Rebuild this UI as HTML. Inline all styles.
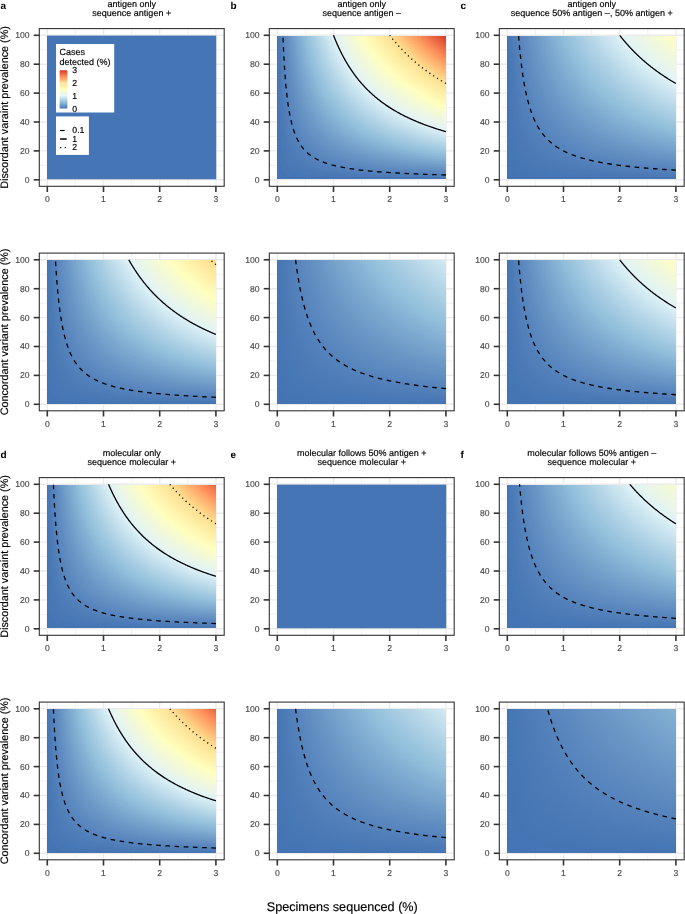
<!DOCTYPE html>
<html><head><meta charset="utf-8"><style>
html,body{margin:0;padding:0;background:#fff;width:685px;height:914px;overflow:hidden}
svg{display:block;will-change:transform}
text{font-family:"Liberation Sans",sans-serif;text-rendering:geometricPrecision}
text[fill="#4d4d4d"]{stroke:#4d4d4d;stroke-width:0.16px}
text[fill="#000"]{stroke:#000;stroke-width:0.16px}
text[font-weight="bold"]{stroke:none}
</style></head><body>
<svg width="685" height="914" viewBox="0 0 685 914">
<defs><filter id="cm100" x="0" y="0" width="1" height="1" color-interpolation-filters="sRGB"><feComponentTransfer><feFuncR type="table" tableValues="0.2706 0.3026 0.3330 0.3623 0.3908 0.4186 0.4458 0.4727 0.4992 0.5254 0.5514 0.5787 0.6087 0.6384 0.6678 0.6970 0.7259 0.7548 0.7834 0.8120 0.8405 0.8690 0.8876 0.9008 0.9136 0.9259 0.9376 0.9490 0.9600 0.9705 0.9807 0.9905 1.0000 1.0000 1.0000 1.0000 1.0000 1.0000 1.0000 0.9995 0.9988 0.9979 0.9968 0.9969 0.9988 1.0000 1.0000 1.0000 1.0000 0.9991 0.9975 0.9953 0.9926 0.9894 0.9800 0.9675 0.9547 0.9416 0.9283 0.9148 0.9009 0.8869 0.8725 0.8580 0.8431"/><feFuncG type="table" tableValues="0.4588 0.4848 0.5110 0.5375 0.5643 0.5914 0.6186 0.6462 0.6739 0.7019 0.7301 0.7552 0.7740 0.7928 0.8117 0.8307 0.8498 0.8690 0.8882 0.9075 0.9269 0.9464 0.9558 0.9600 0.9644 0.9687 0.9731 0.9775 0.9819 0.9864 0.9909 0.9954 1.0000 0.9885 0.9771 0.9656 0.9542 0.9428 0.9314 0.9200 0.9087 0.8973 0.8860 0.8686 0.8389 0.8091 0.7793 0.7492 0.7190 0.6886 0.6579 0.6269 0.5955 0.5637 0.5330 0.5029 0.4724 0.4415 0.4099 0.3776 0.3442 0.3095 0.2727 0.2329 0.1882"/><feFuncB type="table" tableValues="0.7059 0.7203 0.7346 0.7490 0.7633 0.7777 0.7920 0.8063 0.8207 0.8350 0.8493 0.8624 0.8730 0.8837 0.8943 0.9050 0.9157 0.9263 0.9370 0.9477 0.9583 0.9690 0.9588 0.9382 0.9175 0.8968 0.8759 0.8551 0.8341 0.8130 0.7918 0.7705 0.7490 0.7316 0.7142 0.6969 0.6796 0.6623 0.6450 0.6278 0.6105 0.5933 0.5762 0.5577 0.5368 0.5160 0.4953 0.4749 0.4545 0.4344 0.4144 0.3946 0.3749 0.3555 0.3361 0.3168 0.2977 0.2789 0.2602 0.2417 0.2235 0.2055 0.1877 0.1702 0.1529"/></feComponentTransfer></filter><filter id="cm109" x="0" y="0" width="1" height="1" color-interpolation-filters="sRGB"><feComponentTransfer><feFuncR type="table" tableValues="0.2706 0.3000 0.3281 0.3552 0.3815 0.4072 0.4324 0.4572 0.4817 0.5059 0.5299 0.5538 0.5790 0.6065 0.6338 0.6608 0.6876 0.7143 0.7408 0.7671 0.7934 0.8196 0.8458 0.8718 0.8878 0.9000 0.9118 0.9231 0.9340 0.9446 0.9548 0.9646 0.9742 0.9834 0.9924 1.0000 1.0000 1.0000 1.0000 1.0000 1.0000 1.0000 0.9998 0.9992 0.9985 0.9976 0.9966 0.9971 0.9988 1.0000 1.0000 1.0000 1.0000 0.9996 0.9983 0.9966 0.9944 0.9917 0.9887 0.9784 0.9669 0.9552 0.9432 0.9310 0.9186"/><feFuncG type="table" tableValues="0.4588 0.4826 0.5067 0.5309 0.5554 0.5802 0.6051 0.6302 0.6556 0.6811 0.7068 0.7327 0.7554 0.7726 0.7899 0.8072 0.8246 0.8421 0.8596 0.8772 0.8949 0.9127 0.9305 0.9484 0.9559 0.9598 0.9637 0.9677 0.9717 0.9757 0.9798 0.9839 0.9880 0.9922 0.9963 0.9987 0.9882 0.9777 0.9672 0.9567 0.9463 0.9358 0.9254 0.9149 0.9045 0.8941 0.8837 0.8650 0.8378 0.8105 0.7831 0.7556 0.7279 0.7001 0.6720 0.6437 0.6152 0.5862 0.5569 0.5292 0.5015 0.4735 0.4452 0.4164 0.3869"/><feFuncB type="table" tableValues="0.7059 0.7191 0.7323 0.7454 0.7586 0.7718 0.7849 0.7981 0.8112 0.8243 0.8375 0.8506 0.8625 0.8722 0.8820 0.8918 0.9016 0.9114 0.9211 0.9309 0.9407 0.9505 0.9603 0.9701 0.9584 0.9395 0.9205 0.9015 0.8824 0.8633 0.8441 0.8248 0.8054 0.7860 0.7664 0.7471 0.7311 0.7152 0.6993 0.6834 0.6675 0.6517 0.6358 0.6200 0.6042 0.5885 0.5727 0.5552 0.5360 0.5169 0.4980 0.4792 0.4605 0.4419 0.4235 0.4053 0.3871 0.3692 0.3514 0.3336 0.3159 0.2984 0.2811 0.2639 0.2469"/></feComponentTransfer></filter><filter id="cm145" x="0" y="0" width="1" height="1" color-interpolation-filters="sRGB"><feComponentTransfer><feFuncR type="table" tableValues="0.2706 0.2928 0.3143 0.3351 0.3553 0.3752 0.3947 0.4138 0.4327 0.4514 0.4699 0.4882 0.5064 0.5245 0.5424 0.5603 0.5798 0.6005 0.6210 0.6415 0.6617 0.6819 0.7020 0.7220 0.7419 0.7617 0.7815 0.8012 0.8209 0.8405 0.8601 0.8791 0.8885 0.8977 0.9066 0.9153 0.9238 0.9320 0.9400 0.9478 0.9555 0.9629 0.9701 0.9772 0.9841 0.9908 0.9974 1.0000 1.0000 1.0000 1.0000 1.0000 1.0000 1.0000 1.0000 1.0000 0.9997 0.9993 0.9988 0.9982 0.9975 0.9968 0.9963 0.9978 0.9990"/><feFuncG type="table" tableValues="0.4588 0.4767 0.4947 0.5128 0.5311 0.5495 0.5680 0.5867 0.6054 0.6243 0.6433 0.6624 0.6816 0.7009 0.7203 0.7399 0.7559 0.7688 0.7818 0.7948 0.8078 0.8209 0.8340 0.8472 0.8604 0.8736 0.8869 0.9002 0.9135 0.9269 0.9404 0.9531 0.9561 0.9590 0.9620 0.9650 0.9680 0.9710 0.9740 0.9770 0.9801 0.9832 0.9863 0.9894 0.9925 0.9956 0.9987 0.9953 0.9873 0.9794 0.9716 0.9637 0.9558 0.9479 0.9401 0.9322 0.9243 0.9165 0.9087 0.9008 0.8930 0.8852 0.8757 0.8553 0.8348"/><feFuncB type="table" tableValues="0.7059 0.7158 0.7257 0.7356 0.7455 0.7554 0.7653 0.7752 0.7851 0.7950 0.8049 0.8147 0.8246 0.8345 0.8444 0.8542 0.8627 0.8701 0.8774 0.8848 0.8921 0.8995 0.9068 0.9142 0.9215 0.9289 0.9363 0.9436 0.9510 0.9583 0.9657 0.9716 0.9574 0.9432 0.9289 0.9146 0.9003 0.8860 0.8716 0.8572 0.8428 0.8283 0.8137 0.7991 0.7845 0.7697 0.7550 0.7418 0.7298 0.7178 0.7058 0.6939 0.6819 0.6700 0.6581 0.6462 0.6343 0.6224 0.6105 0.5987 0.5868 0.5750 0.5628 0.5483 0.5339"/></feComponentTransfer></filter><filter id="cm200" x="0" y="0" width="1" height="1" color-interpolation-filters="sRGB"><feComponentTransfer><feFuncR type="table" tableValues="0.2706 0.2868 0.3026 0.3180 0.3330 0.3478 0.3623 0.3767 0.3908 0.4048 0.4186 0.4323 0.4458 0.4593 0.4727 0.4859 0.4992 0.5123 0.5254 0.5384 0.5514 0.5643 0.5787 0.5938 0.6087 0.6236 0.6384 0.6531 0.6678 0.6824 0.6970 0.7115 0.7259 0.7404 0.7548 0.7691 0.7834 0.7977 0.8120 0.8263 0.8405 0.8548 0.8690 0.8807 0.8876 0.8943 0.9008 0.9073 0.9136 0.9198 0.9259 0.9318 0.9376 0.9434 0.9490 0.9545 0.9600 0.9653 0.9705 0.9756 0.9807 0.9856 0.9905 0.9953 1.0000"/><feFuncG type="table" tableValues="0.4588 0.4718 0.4848 0.4979 0.5110 0.5242 0.5375 0.5509 0.5643 0.5778 0.5914 0.6050 0.6186 0.6324 0.6462 0.6600 0.6739 0.6879 0.7019 0.7160 0.7301 0.7443 0.7552 0.7646 0.7740 0.7834 0.7928 0.8022 0.8117 0.8212 0.8307 0.8402 0.8498 0.8594 0.8690 0.8786 0.8882 0.8979 0.9075 0.9172 0.9269 0.9367 0.9464 0.9536 0.9558 0.9579 0.9600 0.9622 0.9644 0.9665 0.9687 0.9709 0.9731 0.9753 0.9775 0.9797 0.9819 0.9842 0.9864 0.9887 0.9909 0.9932 0.9954 0.9977 1.0000"/><feFuncB type="table" tableValues="0.7059 0.7131 0.7203 0.7274 0.7346 0.7418 0.7490 0.7562 0.7633 0.7705 0.7777 0.7848 0.7920 0.7992 0.8063 0.8135 0.8207 0.8278 0.8350 0.8421 0.8493 0.8564 0.8624 0.8677 0.8730 0.8784 0.8837 0.8890 0.8943 0.8997 0.9050 0.9103 0.9157 0.9210 0.9263 0.9317 0.9370 0.9423 0.9477 0.9530 0.9583 0.9637 0.9690 0.9691 0.9588 0.9485 0.9382 0.9279 0.9175 0.9071 0.8968 0.8864 0.8759 0.8655 0.8551 0.8446 0.8341 0.8236 0.8130 0.8024 0.7918 0.7812 0.7705 0.7598 0.7490"/></feComponentTransfer></filter><filter id="cm218" x="0" y="0" width="1" height="1" color-interpolation-filters="sRGB"><feComponentTransfer><feFuncR type="table" tableValues="0.2706 0.2855 0.3000 0.3142 0.3281 0.3417 0.3552 0.3684 0.3815 0.3944 0.4072 0.4198 0.4324 0.4448 0.4572 0.4695 0.4817 0.4938 0.5059 0.5180 0.5299 0.5419 0.5538 0.5656 0.5790 0.5928 0.6065 0.6202 0.6338 0.6473 0.6608 0.6742 0.6876 0.7010 0.7143 0.7275 0.7408 0.7540 0.7671 0.7803 0.7934 0.8065 0.8196 0.8327 0.8458 0.8588 0.8718 0.8816 0.8878 0.8940 0.9000 0.9059 0.9118 0.9175 0.9231 0.9286 0.9340 0.9393 0.9446 0.9497 0.9548 0.9598 0.9646 0.9695 0.9742"/><feFuncG type="table" tableValues="0.4588 0.4707 0.4826 0.4946 0.5067 0.5188 0.5309 0.5432 0.5554 0.5678 0.5802 0.5926 0.6051 0.6176 0.6302 0.6429 0.6556 0.6683 0.6811 0.6939 0.7068 0.7197 0.7327 0.7457 0.7554 0.7640 0.7726 0.7812 0.7899 0.7985 0.8072 0.8159 0.8246 0.8333 0.8421 0.8508 0.8596 0.8684 0.8772 0.8861 0.8949 0.9038 0.9127 0.9216 0.9305 0.9394 0.9484 0.9539 0.9559 0.9578 0.9598 0.9617 0.9637 0.9657 0.9677 0.9697 0.9717 0.9737 0.9757 0.9778 0.9798 0.9819 0.9839 0.9860 0.9880"/><feFuncB type="table" tableValues="0.7059 0.7125 0.7191 0.7257 0.7323 0.7388 0.7454 0.7520 0.7586 0.7652 0.7718 0.7783 0.7849 0.7915 0.7981 0.8046 0.8112 0.8178 0.8243 0.8309 0.8375 0.8440 0.8506 0.8572 0.8625 0.8674 0.8722 0.8771 0.8820 0.8869 0.8918 0.8967 0.9016 0.9065 0.9114 0.9162 0.9211 0.9260 0.9309 0.9358 0.9407 0.9456 0.9505 0.9554 0.9603 0.9652 0.9701 0.9679 0.9584 0.9490 0.9395 0.9300 0.9205 0.9110 0.9015 0.8920 0.8824 0.8729 0.8633 0.8537 0.8441 0.8345 0.8248 0.8151 0.8054"/></feComponentTransfer></filter><filter id="cm325" x="0" y="0" width="1" height="1" color-interpolation-filters="sRGB"><feComponentTransfer><feFuncR type="table" tableValues="0.2706 0.2806 0.2905 0.3002 0.3097 0.3191 0.3284 0.3376 0.3467 0.3557 0.3646 0.3734 0.3821 0.3908 0.3994 0.4080 0.4165 0.4249 0.4333 0.4417 0.4500 0.4583 0.4665 0.4747 0.4829 0.4910 0.4992 0.5073 0.5153 0.5234 0.5314 0.5394 0.5474 0.5554 0.5633 0.5717 0.5810 0.5903 0.5995 0.6087 0.6179 0.6270 0.6361 0.6452 0.6543 0.6633 0.6723 0.6813 0.6903 0.6992 0.7081 0.7170 0.7259 0.7348 0.7437 0.7525 0.7614 0.7702 0.7790 0.7878 0.7966 0.8054 0.8142 0.8230 0.8318"/><feFuncG type="table" tableValues="0.4588 0.4668 0.4748 0.4828 0.4908 0.4989 0.5070 0.5151 0.5232 0.5314 0.5396 0.5478 0.5560 0.5643 0.5726 0.5809 0.5893 0.5976 0.6060 0.6144 0.6229 0.6313 0.6398 0.6483 0.6568 0.6653 0.6739 0.6825 0.6911 0.6997 0.7084 0.7171 0.7257 0.7345 0.7432 0.7509 0.7567 0.7624 0.7682 0.7740 0.7798 0.7856 0.7913 0.7972 0.8030 0.8088 0.8146 0.8205 0.8263 0.8322 0.8380 0.8439 0.8498 0.8557 0.8616 0.8675 0.8734 0.8793 0.8852 0.8912 0.8971 0.9031 0.9090 0.9150 0.9210"/><feFuncB type="table" tableValues="0.7059 0.7103 0.7147 0.7192 0.7236 0.7280 0.7324 0.7368 0.7413 0.7457 0.7501 0.7545 0.7589 0.7633 0.7678 0.7722 0.7766 0.7810 0.7854 0.7898 0.7942 0.7986 0.8030 0.8074 0.8119 0.8163 0.8207 0.8251 0.8295 0.8339 0.8383 0.8427 0.8471 0.8515 0.8559 0.8599 0.8632 0.8665 0.8698 0.8730 0.8763 0.8796 0.8829 0.8861 0.8894 0.8927 0.8960 0.8993 0.9025 0.9058 0.9091 0.9124 0.9157 0.9189 0.9222 0.9255 0.9288 0.9321 0.9353 0.9386 0.9419 0.9452 0.9485 0.9518 0.9550"/></feComponentTransfer></filter><filter id="cm715" x="0" y="0" width="1" height="1" color-interpolation-filters="sRGB"><feComponentTransfer><feFuncR type="table" tableValues="0.2706 0.2752 0.2797 0.2842 0.2887 0.2931 0.2976 0.3019 0.3063 0.3106 0.3149 0.3191 0.3234 0.3276 0.3318 0.3359 0.3401 0.3442 0.3483 0.3524 0.3565 0.3605 0.3646 0.3686 0.3726 0.3766 0.3805 0.3845 0.3884 0.3924 0.3963 0.4002 0.4041 0.4080 0.4118 0.4157 0.4195 0.4234 0.4272 0.4310 0.4348 0.4386 0.4424 0.4462 0.4500 0.4537 0.4575 0.4613 0.4650 0.4687 0.4725 0.4762 0.4799 0.4836 0.4873 0.4910 0.4947 0.4984 0.5021 0.5058 0.5095 0.5131 0.5168 0.5205 0.5241"/><feFuncG type="table" tableValues="0.4588 0.4624 0.4661 0.4697 0.4733 0.4769 0.4806 0.4842 0.4879 0.4915 0.4952 0.4989 0.5025 0.5062 0.5099 0.5136 0.5173 0.5210 0.5247 0.5284 0.5321 0.5359 0.5396 0.5433 0.5471 0.5508 0.5545 0.5583 0.5621 0.5658 0.5696 0.5734 0.5771 0.5809 0.5847 0.5885 0.5923 0.5961 0.5999 0.6037 0.6075 0.6114 0.6152 0.6190 0.6229 0.6267 0.6305 0.6344 0.6382 0.6421 0.6460 0.6498 0.6537 0.6576 0.6615 0.6653 0.6692 0.6731 0.6770 0.6809 0.6848 0.6888 0.6927 0.6966 0.7005"/><feFuncB type="table" tableValues="0.7059 0.7079 0.7099 0.7119 0.7139 0.7159 0.7179 0.7200 0.7220 0.7240 0.7260 0.7280 0.7300 0.7320 0.7340 0.7360 0.7380 0.7400 0.7421 0.7441 0.7461 0.7481 0.7501 0.7521 0.7541 0.7561 0.7581 0.7601 0.7621 0.7641 0.7661 0.7682 0.7702 0.7722 0.7742 0.7762 0.7782 0.7802 0.7822 0.7842 0.7862 0.7882 0.7902 0.7922 0.7942 0.7962 0.7982 0.8002 0.8022 0.8042 0.8062 0.8082 0.8103 0.8123 0.8143 0.8163 0.8183 0.8203 0.8223 0.8243 0.8263 0.8283 0.8303 0.8323 0.8343"/></feComponentTransfer></filter><linearGradient id="gx" x1="0" y1="0" x2="1" y2="0"><stop offset="0" stop-color="#fff" stop-opacity="0"/><stop offset="1" stop-color="#fff" stop-opacity="1"/></linearGradient><linearGradient id="gy" gradientUnits="userSpaceOnUse" x1="0" y1="1" x2="0" y2="0"><stop offset="0" stop-color="#fff" stop-opacity="0"/><stop offset="1" stop-color="#fff" stop-opacity="1"/></linearGradient><mask id="my" maskContentUnits="objectBoundingBox" x="-0.1" y="-0.1" width="1.2" height="1.2"><rect x="-0.05" y="-0.05" width="1.1" height="1.1" fill="url(#gy)"/></mask><linearGradient id="lg" x1="0" y1="0" x2="0" y2="1"><stop offset="0.0000" stop-color="#d73027"/><stop offset="0.0333" stop-color="#df4730"/><stop offset="0.0667" stop-color="#e75a3a"/><stop offset="0.1000" stop-color="#ee6c44"/><stop offset="0.1333" stop-color="#f57d4f"/><stop offset="0.1667" stop-color="#fc8d59"/><stop offset="0.2000" stop-color="#fe9e64"/><stop offset="0.2333" stop-color="#ffaf6e"/><stop offset="0.2667" stop-color="#ffc079"/><stop offset="0.3000" stop-color="#ffd085"/><stop offset="0.3333" stop-color="#fee090"/><stop offset="0.3667" stop-color="#ffe699"/><stop offset="0.4000" stop-color="#ffeca3"/><stop offset="0.4333" stop-color="#fff3ac"/><stop offset="0.4667" stop-color="#fff9b6"/><stop offset="0.5000" stop-color="#ffffbf"/><stop offset="0.5333" stop-color="#fafdcb"/><stop offset="0.5667" stop-color="#f4fad6"/><stop offset="0.6000" stop-color="#eef8e1"/><stop offset="0.6333" stop-color="#e7f5ed"/><stop offset="0.6667" stop-color="#e0f3f8"/><stop offset="0.7000" stop-color="#d1e8f2"/><stop offset="0.7333" stop-color="#c1deec"/><stop offset="0.7667" stop-color="#b1d4e7"/><stop offset="0.8000" stop-color="#a1c9e1"/><stop offset="0.8333" stop-color="#91bfdb"/><stop offset="0.8667" stop-color="#83b0d3"/><stop offset="0.9000" stop-color="#74a1cb"/><stop offset="0.9333" stop-color="#6692c4"/><stop offset="0.9667" stop-color="#5683bc"/><stop offset="1.0000" stop-color="#4575b4"/></linearGradient></defs>
<rect width="685" height="914" fill="#fff"/>
<line x1="75.40" y1="28.6" x2="75.40" y2="186.3" stroke="#ebebeb" stroke-width="0.7"/>
<line x1="131.60" y1="28.6" x2="131.60" y2="186.3" stroke="#ebebeb" stroke-width="0.7"/>
<line x1="187.80" y1="28.6" x2="187.80" y2="186.3" stroke="#ebebeb" stroke-width="0.7"/>
<line x1="39.3" y1="165.35" x2="224.2" y2="165.35" stroke="#ebebeb" stroke-width="0.7"/>
<line x1="39.3" y1="136.45" x2="224.2" y2="136.45" stroke="#ebebeb" stroke-width="0.7"/>
<line x1="39.3" y1="107.55" x2="224.2" y2="107.55" stroke="#ebebeb" stroke-width="0.7"/>
<line x1="39.3" y1="78.65" x2="224.2" y2="78.65" stroke="#ebebeb" stroke-width="0.7"/>
<line x1="39.3" y1="49.75" x2="224.2" y2="49.75" stroke="#ebebeb" stroke-width="0.7"/>
<line x1="47.30" y1="28.6" x2="47.30" y2="186.3" stroke="#ebebeb" stroke-width="1.4"/>
<line x1="103.50" y1="28.6" x2="103.50" y2="186.3" stroke="#ebebeb" stroke-width="1.4"/>
<line x1="159.70" y1="28.6" x2="159.70" y2="186.3" stroke="#ebebeb" stroke-width="1.4"/>
<line x1="215.90" y1="28.6" x2="215.90" y2="186.3" stroke="#ebebeb" stroke-width="1.4"/>
<line x1="39.3" y1="179.80" x2="224.2" y2="179.80" stroke="#ebebeb" stroke-width="1.4"/>
<line x1="39.3" y1="150.90" x2="224.2" y2="150.90" stroke="#ebebeb" stroke-width="1.4"/>
<line x1="39.3" y1="122.00" x2="224.2" y2="122.00" stroke="#ebebeb" stroke-width="1.4"/>
<line x1="39.3" y1="93.10" x2="224.2" y2="93.10" stroke="#ebebeb" stroke-width="1.4"/>
<line x1="39.3" y1="64.20" x2="224.2" y2="64.20" stroke="#ebebeb" stroke-width="1.4"/>
<line x1="39.3" y1="35.30" x2="224.2" y2="35.30" stroke="#ebebeb" stroke-width="1.4"/>
<rect x="47.00" y="35.60" width="169.25" height="143.70" fill="#4575b4"/>
<rect x="39.3" y="28.6" width="184.90" height="157.70" fill="none" stroke="#333" stroke-width="1.1"/>
<line x1="33.70" y1="179.80" x2="39.3" y2="179.80" stroke="#333" stroke-width="1.6"/>
<text x="29.60" y="182.75" text-anchor="end" font-size="8.6" fill="#4d4d4d" font-family="Liberation Sans, sans-serif">0</text>
<line x1="33.70" y1="150.90" x2="39.3" y2="150.90" stroke="#333" stroke-width="1.6"/>
<text x="29.60" y="153.85" text-anchor="end" font-size="8.6" fill="#4d4d4d" font-family="Liberation Sans, sans-serif">20</text>
<line x1="33.70" y1="122.00" x2="39.3" y2="122.00" stroke="#333" stroke-width="1.6"/>
<text x="29.60" y="124.95" text-anchor="end" font-size="8.6" fill="#4d4d4d" font-family="Liberation Sans, sans-serif">40</text>
<line x1="33.70" y1="93.10" x2="39.3" y2="93.10" stroke="#333" stroke-width="1.6"/>
<text x="29.60" y="96.05" text-anchor="end" font-size="8.6" fill="#4d4d4d" font-family="Liberation Sans, sans-serif">60</text>
<line x1="33.70" y1="64.20" x2="39.3" y2="64.20" stroke="#333" stroke-width="1.6"/>
<text x="29.60" y="67.15" text-anchor="end" font-size="8.6" fill="#4d4d4d" font-family="Liberation Sans, sans-serif">80</text>
<line x1="33.70" y1="35.30" x2="39.3" y2="35.30" stroke="#333" stroke-width="1.6"/>
<text x="29.60" y="38.25" text-anchor="end" font-size="8.6" fill="#4d4d4d" font-family="Liberation Sans, sans-serif">100</text>
<line x1="47.30" y1="186.3" x2="47.30" y2="192.00" stroke="#333" stroke-width="1.6"/>
<text x="47.30" y="202.20" text-anchor="middle" font-size="8.6" fill="#4d4d4d" font-family="Liberation Sans, sans-serif">0</text>
<line x1="103.50" y1="186.3" x2="103.50" y2="192.00" stroke="#333" stroke-width="1.6"/>
<text x="103.50" y="202.20" text-anchor="middle" font-size="8.6" fill="#4d4d4d" font-family="Liberation Sans, sans-serif">1</text>
<line x1="159.70" y1="186.3" x2="159.70" y2="192.00" stroke="#333" stroke-width="1.6"/>
<text x="159.70" y="202.20" text-anchor="middle" font-size="8.6" fill="#4d4d4d" font-family="Liberation Sans, sans-serif">2</text>
<line x1="215.90" y1="186.3" x2="215.90" y2="192.00" stroke="#333" stroke-width="1.6"/>
<text x="215.90" y="202.20" text-anchor="middle" font-size="8.6" fill="#4d4d4d" font-family="Liberation Sans, sans-serif">3</text>
<text x="131.75" y="6.80" text-anchor="middle" font-size="9" fill="#000" font-family="Liberation Sans, sans-serif">antigen only</text>
<text x="131.75" y="16.20" text-anchor="middle" font-size="9" fill="#000" font-family="Liberation Sans, sans-serif">sequence antigen +</text>
<text x="0.40" y="8.80" font-size="10" font-weight="bold" fill="#000" font-family="Liberation Sans, sans-serif">a</text>
<line x1="305.40" y1="28.6" x2="305.40" y2="186.3" stroke="#ebebeb" stroke-width="0.7"/>
<line x1="361.60" y1="28.6" x2="361.60" y2="186.3" stroke="#ebebeb" stroke-width="0.7"/>
<line x1="417.80" y1="28.6" x2="417.80" y2="186.3" stroke="#ebebeb" stroke-width="0.7"/>
<line x1="269.3" y1="165.35" x2="454.2" y2="165.35" stroke="#ebebeb" stroke-width="0.7"/>
<line x1="269.3" y1="136.45" x2="454.2" y2="136.45" stroke="#ebebeb" stroke-width="0.7"/>
<line x1="269.3" y1="107.55" x2="454.2" y2="107.55" stroke="#ebebeb" stroke-width="0.7"/>
<line x1="269.3" y1="78.65" x2="454.2" y2="78.65" stroke="#ebebeb" stroke-width="0.7"/>
<line x1="269.3" y1="49.75" x2="454.2" y2="49.75" stroke="#ebebeb" stroke-width="0.7"/>
<line x1="277.30" y1="28.6" x2="277.30" y2="186.3" stroke="#ebebeb" stroke-width="1.4"/>
<line x1="333.50" y1="28.6" x2="333.50" y2="186.3" stroke="#ebebeb" stroke-width="1.4"/>
<line x1="389.70" y1="28.6" x2="389.70" y2="186.3" stroke="#ebebeb" stroke-width="1.4"/>
<line x1="445.90" y1="28.6" x2="445.90" y2="186.3" stroke="#ebebeb" stroke-width="1.4"/>
<line x1="269.3" y1="179.80" x2="454.2" y2="179.80" stroke="#ebebeb" stroke-width="1.4"/>
<line x1="269.3" y1="150.90" x2="454.2" y2="150.90" stroke="#ebebeb" stroke-width="1.4"/>
<line x1="269.3" y1="122.00" x2="454.2" y2="122.00" stroke="#ebebeb" stroke-width="1.4"/>
<line x1="269.3" y1="93.10" x2="454.2" y2="93.10" stroke="#ebebeb" stroke-width="1.4"/>
<line x1="269.3" y1="64.20" x2="454.2" y2="64.20" stroke="#ebebeb" stroke-width="1.4"/>
<line x1="269.3" y1="35.30" x2="454.2" y2="35.30" stroke="#ebebeb" stroke-width="1.4"/>
<g filter="url(#cm100)" shape-rendering="crispEdges"><rect x="277.00" y="35.60" width="169.25" height="143.70" fill="#000"/><rect x="277.00" y="35.60" width="169.25" height="143.70" fill="url(#gx)" mask="url(#my)"/></g>
<polyline points="445.90,174.98 442.33,174.88 438.84,174.77 435.42,174.66 432.07,174.55 428.80,174.44 425.59,174.32 422.45,174.21 419.38,174.08 416.37,173.96 413.43,173.83 410.55,173.71 407.73,173.57 404.97,173.44 402.27,173.30 399.62,173.16 397.03,173.02 394.50,172.87 392.02,172.72 389.59,172.57 387.21,172.41 384.89,172.25 382.61,172.09 380.38,171.92 378.20,171.75 376.07,171.58 373.98,171.40 371.93,171.22 369.93,171.03 367.97,170.84 366.05,170.65 364.17,170.45 362.33,170.25 360.53,170.04 358.77,169.83 357.05,169.62 355.36,169.40 353.71,169.17 352.09,168.94 350.51,168.71 348.96,168.47 347.44,168.22 345.96,167.97 344.50,167.72 343.08,167.45 341.69,167.19 340.33,166.91 338.99,166.64 337.69,166.35 336.41,166.06 335.16,165.76 333.93,165.46 332.73,165.15 331.56,164.83 330.41,164.51 329.29,164.18 328.19,163.84 327.11,163.50 326.06,163.14 325.02,162.78 324.01,162.42 323.03,162.04 322.06,161.66 321.11,161.26 320.18,160.86 319.28,160.45 318.39,160.04 317.52,159.61 316.67,159.17 315.83,158.73 315.02,158.27 314.22,157.80 313.44,157.33 312.67,156.84 311.93,156.35 311.19,155.84 310.48,155.32 309.77,154.79 309.09,154.25 308.41,153.70 307.75,153.13 307.11,152.56 306.48,151.97 305.86,151.37 305.26,150.75 304.67,150.12 304.09,149.48 303.52,148.83 302.96,148.16 302.42,147.47 301.89,146.77 301.37,146.06 300.86,145.33 300.36,144.59 299.87,143.82 299.40,143.05 298.93,142.25 298.47,141.44 298.02,140.61 297.58,139.76 297.15,138.90 296.73,138.01 296.32,137.11 295.92,136.19 295.53,135.24 295.14,134.28 294.76,133.30 294.39,132.29 294.03,131.26 293.68,130.21 293.33,129.14 292.99,128.05 292.66,126.93 292.33,125.78 292.02,124.62 291.70,123.42 291.40,122.20 291.10,120.96 290.81,119.69 290.52,118.39 290.24,117.06 289.97,115.70 289.70,114.32 289.44,112.90 289.18,111.45 288.93,109.98 288.68,108.47 288.44,106.92 288.21,105.35 287.98,103.74 287.75,102.09 287.53,100.41 287.31,98.70 287.10,96.94 286.89,95.15 286.69,93.32 286.49,91.45 286.30,89.54 286.11,87.59 285.92,85.60 285.74,83.56 285.56,81.48 285.38,79.35 285.21,77.18 285.05,74.96 284.88,72.70 284.72,70.38 284.56,68.01 284.41,65.60 284.26,63.13 284.11,60.61 283.97,58.03 283.83,55.40 283.69,52.71 283.55,49.96 283.42,47.15 283.29,44.28 283.17,41.35 283.04,38.36 282.92,35.30" fill="none" stroke="#000" stroke-width="1.3" stroke-dasharray="4.6 4.6"/>
<polyline points="445.90,131.63 444.74,131.30 443.59,130.96 442.44,130.62 441.30,130.28 440.17,129.94 439.05,129.59 437.94,129.25 436.83,128.90 435.73,128.54 434.64,128.19 433.56,127.83 432.48,127.47 431.42,127.11 430.35,126.74 429.30,126.37 428.25,126.00 427.21,125.63 426.18,125.25 425.16,124.88 424.14,124.50 423.13,124.11 422.12,123.73 421.13,123.34 420.14,122.95 419.15,122.55 418.18,122.15 417.21,121.75 416.24,121.35 415.29,120.95 414.34,120.54 413.39,120.13 412.46,119.71 411.52,119.30 410.60,118.88 409.68,118.46 408.77,118.03 407.87,117.60 406.97,117.17 406.07,116.74 405.19,116.30 404.31,115.86 403.43,115.42 402.56,114.97 401.70,114.52 400.84,114.07 399.99,113.61 399.15,113.15 398.31,112.69 397.48,112.23 396.65,111.76 395.83,111.29 395.01,110.81 394.20,110.33 393.40,109.85 392.60,109.36 391.80,108.88 391.01,108.38 390.23,107.89 389.45,107.39 388.68,106.89 387.91,106.38 387.15,105.87 386.40,105.36 385.64,104.85 384.90,104.33 384.16,103.80 383.42,103.28 382.69,102.75 381.97,102.21 381.25,101.67 380.53,101.13 379.82,100.59 379.11,100.04 378.41,99.48 377.72,98.93 377.02,98.37 376.34,97.80 375.66,97.23 374.98,96.66 374.31,96.08 373.64,95.50 372.97,94.92 372.32,94.33 371.66,93.74 371.01,93.14 370.37,92.54 369.73,91.94 369.09,91.33 368.46,90.71 367.83,90.10 367.21,89.47 366.59,88.85 365.97,88.22 365.36,87.58 364.76,86.94 364.15,86.30 363.55,85.65 362.96,85.00 362.37,84.34 361.79,83.68 361.20,83.01 360.63,82.34 360.05,81.66 359.48,80.98 358.92,80.30 358.35,79.61 357.80,78.91 357.24,78.22 356.69,77.51 356.14,76.80 355.60,76.09 355.06,75.37 354.53,74.64 354.00,73.92 353.47,73.18 352.94,72.44 352.42,71.70 351.90,70.95 351.39,70.19 350.88,69.43 350.37,68.67 349.87,67.90 349.37,67.12 348.88,66.34 348.38,65.55 347.89,64.76 347.41,63.96 346.92,63.16 346.44,62.35 345.97,61.54 345.50,60.72 345.03,59.89 344.56,59.06 344.10,58.22 343.64,57.38 343.18,56.53 342.73,55.68 342.28,54.82 341.83,53.95 341.38,53.08 340.94,52.20 340.50,51.31 340.07,50.42 339.64,49.53 339.21,48.62 338.78,47.71 338.36,46.80 337.94,45.88 337.52,44.95 337.11,44.01 336.69,43.07 336.29,42.12 335.88,41.17 335.48,40.21 335.07,39.24 334.68,38.26 334.28,37.28 333.89,36.29 333.50,35.30" fill="none" stroke="#000" stroke-width="1.3"/>
<polyline points="445.90,83.47 445.47,83.22 445.04,82.97 444.62,82.73 444.19,82.48 443.76,82.23 443.34,81.98 442.92,81.73 442.50,81.48 442.07,81.23 441.65,80.98 441.24,80.73 440.82,80.47 440.40,80.22 439.99,79.97 439.57,79.71 439.16,79.45 438.75,79.20 438.34,78.94 437.93,78.68 437.52,78.43 437.11,78.17 436.70,77.91 436.30,77.65 435.89,77.39 435.49,77.13 435.08,76.86 434.68,76.60 434.28,76.34 433.88,76.07 433.48,75.81 433.08,75.54 432.69,75.28 432.29,75.01 431.90,74.74 431.50,74.47 431.11,74.20 430.72,73.93 430.33,73.66 429.94,73.39 429.55,73.12 429.16,72.85 428.78,72.58 428.39,72.30 428.01,72.03 427.62,71.75 427.24,71.48 426.86,71.20 426.48,70.92 426.10,70.64 425.72,70.37 425.34,70.09 424.96,69.81 424.59,69.53 424.21,69.24 423.84,68.96 423.46,68.68 423.09,68.40 422.72,68.11 422.35,67.83 421.98,67.54 421.61,67.25 421.24,66.97 420.88,66.68 420.51,66.39 420.15,66.10 419.78,65.81 419.42,65.52 419.06,65.23 418.70,64.93 418.34,64.64 417.98,64.35 417.62,64.05 417.26,63.76 416.91,63.46 416.55,63.16 416.20,62.86 415.84,62.57 415.49,62.27 415.14,61.97 414.79,61.67 414.44,61.36 414.09,61.06 413.74,60.76 413.39,60.45 413.04,60.15 412.70,59.84 412.35,59.54 412.01,59.23 411.67,58.92 411.32,58.61 410.98,58.31 410.64,57.99 410.30,57.68 409.96,57.37 409.63,57.06 409.29,56.75 408.95,56.43 408.62,56.12 408.28,55.80 407.95,55.48 407.62,55.17 407.29,54.85 406.95,54.53 406.62,54.21 406.29,53.89 405.97,53.57 405.64,53.25 405.31,52.92 404.99,52.60 404.66,52.27 404.34,51.95 404.01,51.62 403.69,51.29 403.37,50.97 403.05,50.64 402.73,50.31 402.41,49.98 402.09,49.65 401.77,49.31 401.45,48.98 401.14,48.65 400.82,48.31 400.51,47.97 400.19,47.64 399.88,47.30 399.57,46.96 399.26,46.62 398.95,46.28 398.64,45.94 398.33,45.60 398.02,45.26 397.71,44.91 397.41,44.57 397.10,44.22 396.79,43.88 396.49,43.53 396.19,43.18 395.88,42.83 395.58,42.48 395.28,42.13 394.98,41.78 394.68,41.43 394.38,41.08 394.08,40.72 393.79,40.37 393.49,40.01 393.19,39.65 392.90,39.30 392.60,38.94 392.31,38.58 392.02,38.22 391.72,37.86 391.43,37.49 391.14,37.13 390.85,36.77 390.56,36.40 390.27,36.04 389.99,35.67 389.70,35.30" fill="none" stroke="#000" stroke-width="1.3" stroke-dasharray="1.15 3.45"/>
<rect x="269.3" y="28.6" width="184.90" height="157.70" fill="none" stroke="#333" stroke-width="1.1"/>
<line x1="263.70" y1="179.80" x2="269.3" y2="179.80" stroke="#333" stroke-width="1.6"/>
<text x="259.60" y="182.75" text-anchor="end" font-size="8.6" fill="#4d4d4d" font-family="Liberation Sans, sans-serif">0</text>
<line x1="263.70" y1="150.90" x2="269.3" y2="150.90" stroke="#333" stroke-width="1.6"/>
<text x="259.60" y="153.85" text-anchor="end" font-size="8.6" fill="#4d4d4d" font-family="Liberation Sans, sans-serif">20</text>
<line x1="263.70" y1="122.00" x2="269.3" y2="122.00" stroke="#333" stroke-width="1.6"/>
<text x="259.60" y="124.95" text-anchor="end" font-size="8.6" fill="#4d4d4d" font-family="Liberation Sans, sans-serif">40</text>
<line x1="263.70" y1="93.10" x2="269.3" y2="93.10" stroke="#333" stroke-width="1.6"/>
<text x="259.60" y="96.05" text-anchor="end" font-size="8.6" fill="#4d4d4d" font-family="Liberation Sans, sans-serif">60</text>
<line x1="263.70" y1="64.20" x2="269.3" y2="64.20" stroke="#333" stroke-width="1.6"/>
<text x="259.60" y="67.15" text-anchor="end" font-size="8.6" fill="#4d4d4d" font-family="Liberation Sans, sans-serif">80</text>
<line x1="263.70" y1="35.30" x2="269.3" y2="35.30" stroke="#333" stroke-width="1.6"/>
<text x="259.60" y="38.25" text-anchor="end" font-size="8.6" fill="#4d4d4d" font-family="Liberation Sans, sans-serif">100</text>
<line x1="277.30" y1="186.3" x2="277.30" y2="192.00" stroke="#333" stroke-width="1.6"/>
<text x="277.30" y="202.20" text-anchor="middle" font-size="8.6" fill="#4d4d4d" font-family="Liberation Sans, sans-serif">0</text>
<line x1="333.50" y1="186.3" x2="333.50" y2="192.00" stroke="#333" stroke-width="1.6"/>
<text x="333.50" y="202.20" text-anchor="middle" font-size="8.6" fill="#4d4d4d" font-family="Liberation Sans, sans-serif">1</text>
<line x1="389.70" y1="186.3" x2="389.70" y2="192.00" stroke="#333" stroke-width="1.6"/>
<text x="389.70" y="202.20" text-anchor="middle" font-size="8.6" fill="#4d4d4d" font-family="Liberation Sans, sans-serif">2</text>
<line x1="445.90" y1="186.3" x2="445.90" y2="192.00" stroke="#333" stroke-width="1.6"/>
<text x="445.90" y="202.20" text-anchor="middle" font-size="8.6" fill="#4d4d4d" font-family="Liberation Sans, sans-serif">3</text>
<text x="361.75" y="6.80" text-anchor="middle" font-size="9" fill="#000" font-family="Liberation Sans, sans-serif">antigen only</text>
<text x="361.75" y="16.20" text-anchor="middle" font-size="9" fill="#000" font-family="Liberation Sans, sans-serif">sequence antigen –</text>
<text x="230.40" y="8.80" font-size="10" font-weight="bold" fill="#000" font-family="Liberation Sans, sans-serif">b</text>
<line x1="535.40" y1="28.6" x2="535.40" y2="186.3" stroke="#ebebeb" stroke-width="0.7"/>
<line x1="591.60" y1="28.6" x2="591.60" y2="186.3" stroke="#ebebeb" stroke-width="0.7"/>
<line x1="647.80" y1="28.6" x2="647.80" y2="186.3" stroke="#ebebeb" stroke-width="0.7"/>
<line x1="499.3" y1="165.35" x2="684.2" y2="165.35" stroke="#ebebeb" stroke-width="0.7"/>
<line x1="499.3" y1="136.45" x2="684.2" y2="136.45" stroke="#ebebeb" stroke-width="0.7"/>
<line x1="499.3" y1="107.55" x2="684.2" y2="107.55" stroke="#ebebeb" stroke-width="0.7"/>
<line x1="499.3" y1="78.65" x2="684.2" y2="78.65" stroke="#ebebeb" stroke-width="0.7"/>
<line x1="499.3" y1="49.75" x2="684.2" y2="49.75" stroke="#ebebeb" stroke-width="0.7"/>
<line x1="507.30" y1="28.6" x2="507.30" y2="186.3" stroke="#ebebeb" stroke-width="1.4"/>
<line x1="563.50" y1="28.6" x2="563.50" y2="186.3" stroke="#ebebeb" stroke-width="1.4"/>
<line x1="619.70" y1="28.6" x2="619.70" y2="186.3" stroke="#ebebeb" stroke-width="1.4"/>
<line x1="675.90" y1="28.6" x2="675.90" y2="186.3" stroke="#ebebeb" stroke-width="1.4"/>
<line x1="499.3" y1="179.80" x2="684.2" y2="179.80" stroke="#ebebeb" stroke-width="1.4"/>
<line x1="499.3" y1="150.90" x2="684.2" y2="150.90" stroke="#ebebeb" stroke-width="1.4"/>
<line x1="499.3" y1="122.00" x2="684.2" y2="122.00" stroke="#ebebeb" stroke-width="1.4"/>
<line x1="499.3" y1="93.10" x2="684.2" y2="93.10" stroke="#ebebeb" stroke-width="1.4"/>
<line x1="499.3" y1="64.20" x2="684.2" y2="64.20" stroke="#ebebeb" stroke-width="1.4"/>
<line x1="499.3" y1="35.30" x2="684.2" y2="35.30" stroke="#ebebeb" stroke-width="1.4"/>
<g filter="url(#cm200)" shape-rendering="crispEdges"><rect x="507.00" y="35.60" width="169.25" height="143.70" fill="#000"/><rect x="507.00" y="35.60" width="169.25" height="143.70" fill="url(#gx)" mask="url(#my)"/></g>
<polyline points="675.90,170.17 673.05,170.00 670.25,169.83 667.50,169.66 664.80,169.49 662.14,169.31 659.52,169.13 656.95,168.95 654.42,168.76 651.94,168.57 649.50,168.38 647.10,168.18 644.73,167.98 642.41,167.78 640.13,167.57 637.89,167.36 635.68,167.15 633.52,166.93 631.38,166.71 629.29,166.49 627.23,166.26 625.20,166.02 623.21,165.79 621.25,165.55 619.33,165.30 617.44,165.05 615.58,164.80 613.75,164.54 611.95,164.28 610.18,164.01 608.45,163.74 606.74,163.47 605.06,163.19 603.41,162.90 601.79,162.61 600.19,162.32 598.62,162.01 597.08,161.71 595.56,161.40 594.07,161.08 592.61,160.76 591.17,160.43 589.75,160.10 588.36,159.76 586.99,159.42 585.64,159.07 584.32,158.71 583.02,158.35 581.74,157.98 580.48,157.61 579.25,157.23 578.03,156.84 576.84,156.44 575.66,156.04 574.51,155.63 573.37,155.22 572.26,154.80 571.16,154.37 570.08,153.93 569.02,153.49 567.98,153.03 566.96,152.57 565.95,152.11 564.96,151.63 563.98,151.15 563.03,150.65 562.09,150.15 561.16,149.64 560.25,149.13 559.36,148.60 558.48,148.06 557.61,147.52 556.76,146.96 555.93,146.40 555.11,145.83 554.30,145.24 553.51,144.65 552.73,144.05 551.96,143.43 551.20,142.81 550.46,142.17 549.73,141.52 549.02,140.87 548.31,140.20 547.62,139.52 546.94,138.83 546.27,138.12 545.61,137.41 544.97,136.68 544.33,135.94 543.70,135.18 543.09,134.42 542.48,133.64 541.89,132.85 541.31,132.04 540.73,131.22 540.17,130.38 539.61,129.53 539.07,128.67 538.53,127.79 538.00,126.90 537.48,125.99 536.97,125.07 536.47,124.13 535.98,123.17 535.50,122.20 535.02,121.21 534.55,120.20 534.09,119.18 533.64,118.14 533.19,117.08 532.76,116.00 532.33,114.90 531.90,113.79 531.49,112.66 531.08,111.50 530.68,110.33 530.28,109.14 529.90,107.92 529.51,106.69 529.14,105.43 528.77,104.15 528.41,102.85 528.05,101.53 527.70,100.19 527.36,98.82 527.02,97.43 526.68,96.01 526.36,94.57 526.04,93.11 525.72,91.62 525.41,90.11 525.10,88.57 524.80,87.00 524.51,85.41 524.22,83.78 523.93,82.13 523.65,80.46 523.37,78.75 523.10,77.01 522.83,75.25 522.57,73.45 522.31,71.63 522.06,69.77 521.81,67.88 521.57,65.96 521.33,64.00 521.09,62.01 520.86,59.99 520.63,57.93 520.40,55.84 520.18,53.71 519.96,51.54 519.75,49.34 519.54,47.10 519.33,44.82 519.13,42.50 518.93,40.14 518.73,37.74 518.54,35.30" fill="none" stroke="#000" stroke-width="1.3" stroke-dasharray="4.6 4.6"/>
<polyline points="675.90,83.47 675.47,83.22 675.04,82.97 674.62,82.73 674.19,82.48 673.76,82.23 673.34,81.98 672.92,81.73 672.50,81.48 672.07,81.23 671.65,80.98 671.24,80.73 670.82,80.47 670.40,80.22 669.99,79.97 669.57,79.71 669.16,79.45 668.75,79.20 668.34,78.94 667.93,78.68 667.52,78.43 667.11,78.17 666.70,77.91 666.30,77.65 665.89,77.39 665.49,77.13 665.08,76.86 664.68,76.60 664.28,76.34 663.88,76.07 663.48,75.81 663.08,75.54 662.69,75.28 662.29,75.01 661.90,74.74 661.50,74.47 661.11,74.20 660.72,73.93 660.33,73.66 659.94,73.39 659.55,73.12 659.16,72.85 658.78,72.58 658.39,72.30 658.01,72.03 657.62,71.75 657.24,71.48 656.86,71.20 656.48,70.92 656.10,70.64 655.72,70.37 655.34,70.09 654.96,69.81 654.59,69.53 654.21,69.24 653.84,68.96 653.46,68.68 653.09,68.40 652.72,68.11 652.35,67.83 651.98,67.54 651.61,67.25 651.24,66.97 650.88,66.68 650.51,66.39 650.15,66.10 649.78,65.81 649.42,65.52 649.06,65.23 648.70,64.93 648.34,64.64 647.98,64.35 647.62,64.05 647.26,63.76 646.91,63.46 646.55,63.16 646.20,62.86 645.84,62.57 645.49,62.27 645.14,61.97 644.79,61.67 644.44,61.36 644.09,61.06 643.74,60.76 643.39,60.45 643.04,60.15 642.70,59.84 642.35,59.54 642.01,59.23 641.67,58.92 641.32,58.61 640.98,58.31 640.64,57.99 640.30,57.68 639.96,57.37 639.63,57.06 639.29,56.75 638.95,56.43 638.62,56.12 638.28,55.80 637.95,55.48 637.62,55.17 637.29,54.85 636.95,54.53 636.62,54.21 636.29,53.89 635.97,53.57 635.64,53.25 635.31,52.92 634.99,52.60 634.66,52.27 634.34,51.95 634.01,51.62 633.69,51.29 633.37,50.97 633.05,50.64 632.73,50.31 632.41,49.98 632.09,49.65 631.77,49.31 631.45,48.98 631.14,48.65 630.82,48.31 630.51,47.97 630.19,47.64 629.88,47.30 629.57,46.96 629.26,46.62 628.95,46.28 628.64,45.94 628.33,45.60 628.02,45.26 627.71,44.91 627.41,44.57 627.10,44.22 626.79,43.88 626.49,43.53 626.19,43.18 625.88,42.83 625.58,42.48 625.28,42.13 624.98,41.78 624.68,41.43 624.38,41.08 624.08,40.72 623.79,40.37 623.49,40.01 623.19,39.65 622.90,39.30 622.60,38.94 622.31,38.58 622.02,38.22 621.72,37.86 621.43,37.49 621.14,37.13 620.85,36.77 620.56,36.40 620.27,36.04 619.99,35.67 619.70,35.30" fill="none" stroke="#000" stroke-width="1.3"/>
<rect x="499.3" y="28.6" width="184.90" height="157.70" fill="none" stroke="#333" stroke-width="1.1"/>
<line x1="493.70" y1="179.80" x2="499.3" y2="179.80" stroke="#333" stroke-width="1.6"/>
<text x="489.60" y="182.75" text-anchor="end" font-size="8.6" fill="#4d4d4d" font-family="Liberation Sans, sans-serif">0</text>
<line x1="493.70" y1="150.90" x2="499.3" y2="150.90" stroke="#333" stroke-width="1.6"/>
<text x="489.60" y="153.85" text-anchor="end" font-size="8.6" fill="#4d4d4d" font-family="Liberation Sans, sans-serif">20</text>
<line x1="493.70" y1="122.00" x2="499.3" y2="122.00" stroke="#333" stroke-width="1.6"/>
<text x="489.60" y="124.95" text-anchor="end" font-size="8.6" fill="#4d4d4d" font-family="Liberation Sans, sans-serif">40</text>
<line x1="493.70" y1="93.10" x2="499.3" y2="93.10" stroke="#333" stroke-width="1.6"/>
<text x="489.60" y="96.05" text-anchor="end" font-size="8.6" fill="#4d4d4d" font-family="Liberation Sans, sans-serif">60</text>
<line x1="493.70" y1="64.20" x2="499.3" y2="64.20" stroke="#333" stroke-width="1.6"/>
<text x="489.60" y="67.15" text-anchor="end" font-size="8.6" fill="#4d4d4d" font-family="Liberation Sans, sans-serif">80</text>
<line x1="493.70" y1="35.30" x2="499.3" y2="35.30" stroke="#333" stroke-width="1.6"/>
<text x="489.60" y="38.25" text-anchor="end" font-size="8.6" fill="#4d4d4d" font-family="Liberation Sans, sans-serif">100</text>
<line x1="507.30" y1="186.3" x2="507.30" y2="192.00" stroke="#333" stroke-width="1.6"/>
<text x="507.30" y="202.20" text-anchor="middle" font-size="8.6" fill="#4d4d4d" font-family="Liberation Sans, sans-serif">0</text>
<line x1="563.50" y1="186.3" x2="563.50" y2="192.00" stroke="#333" stroke-width="1.6"/>
<text x="563.50" y="202.20" text-anchor="middle" font-size="8.6" fill="#4d4d4d" font-family="Liberation Sans, sans-serif">1</text>
<line x1="619.70" y1="186.3" x2="619.70" y2="192.00" stroke="#333" stroke-width="1.6"/>
<text x="619.70" y="202.20" text-anchor="middle" font-size="8.6" fill="#4d4d4d" font-family="Liberation Sans, sans-serif">2</text>
<line x1="675.90" y1="186.3" x2="675.90" y2="192.00" stroke="#333" stroke-width="1.6"/>
<text x="675.90" y="202.20" text-anchor="middle" font-size="8.6" fill="#4d4d4d" font-family="Liberation Sans, sans-serif">3</text>
<text x="591.75" y="6.80" text-anchor="middle" font-size="9" fill="#000" font-family="Liberation Sans, sans-serif">antigen only</text>
<text x="591.75" y="16.20" text-anchor="middle" font-size="9" fill="#000" font-family="Liberation Sans, sans-serif">sequence 50% antigen –, 50% antigen +</text>
<text x="460.40" y="8.80" font-size="10" font-weight="bold" fill="#000" font-family="Liberation Sans, sans-serif">c</text>
<text transform="translate(8.1,107.45) rotate(-90)" text-anchor="middle" font-size="10.8" fill="#000" font-family="Liberation Sans, sans-serif">Discordant varaint prevalence (%)</text>
<line x1="75.40" y1="253.1" x2="75.40" y2="410.8" stroke="#ebebeb" stroke-width="0.7"/>
<line x1="131.60" y1="253.1" x2="131.60" y2="410.8" stroke="#ebebeb" stroke-width="0.7"/>
<line x1="187.80" y1="253.1" x2="187.80" y2="410.8" stroke="#ebebeb" stroke-width="0.7"/>
<line x1="39.3" y1="389.85" x2="224.2" y2="389.85" stroke="#ebebeb" stroke-width="0.7"/>
<line x1="39.3" y1="360.95" x2="224.2" y2="360.95" stroke="#ebebeb" stroke-width="0.7"/>
<line x1="39.3" y1="332.05" x2="224.2" y2="332.05" stroke="#ebebeb" stroke-width="0.7"/>
<line x1="39.3" y1="303.15" x2="224.2" y2="303.15" stroke="#ebebeb" stroke-width="0.7"/>
<line x1="39.3" y1="274.25" x2="224.2" y2="274.25" stroke="#ebebeb" stroke-width="0.7"/>
<line x1="47.30" y1="253.1" x2="47.30" y2="410.8" stroke="#ebebeb" stroke-width="1.4"/>
<line x1="103.50" y1="253.1" x2="103.50" y2="410.8" stroke="#ebebeb" stroke-width="1.4"/>
<line x1="159.70" y1="253.1" x2="159.70" y2="410.8" stroke="#ebebeb" stroke-width="1.4"/>
<line x1="215.90" y1="253.1" x2="215.90" y2="410.8" stroke="#ebebeb" stroke-width="1.4"/>
<line x1="39.3" y1="404.30" x2="224.2" y2="404.30" stroke="#ebebeb" stroke-width="1.4"/>
<line x1="39.3" y1="375.40" x2="224.2" y2="375.40" stroke="#ebebeb" stroke-width="1.4"/>
<line x1="39.3" y1="346.50" x2="224.2" y2="346.50" stroke="#ebebeb" stroke-width="1.4"/>
<line x1="39.3" y1="317.60" x2="224.2" y2="317.60" stroke="#ebebeb" stroke-width="1.4"/>
<line x1="39.3" y1="288.70" x2="224.2" y2="288.70" stroke="#ebebeb" stroke-width="1.4"/>
<line x1="39.3" y1="259.80" x2="224.2" y2="259.80" stroke="#ebebeb" stroke-width="1.4"/>
<g filter="url(#cm145)" shape-rendering="crispEdges"><rect x="47.00" y="260.10" width="169.25" height="143.70" fill="#000"/><rect x="47.00" y="260.10" width="169.25" height="143.70" fill="url(#gx)" mask="url(#my)"/></g>
<polyline points="215.90,397.32 212.72,397.18 209.60,397.04 206.53,396.90 203.53,396.76 200.58,396.62 197.69,396.47 194.85,396.32 192.06,396.17 189.33,396.01 186.65,395.85 184.02,395.69 181.44,395.52 178.91,395.35 176.42,395.18 173.99,395.01 171.60,394.83 169.25,394.64 166.95,394.46 164.69,394.27 162.47,394.08 160.30,393.88 158.17,393.68 156.07,393.47 154.02,393.27 152.01,393.05 150.03,392.84 148.09,392.62 146.19,392.39 144.32,392.16 142.49,391.93 140.70,391.69 138.93,391.45 137.20,391.20 135.51,390.95 133.84,390.69 132.21,390.43 130.61,390.16 129.03,389.89 127.49,389.62 125.98,389.33 124.49,389.05 123.04,388.75 121.61,388.45 120.20,388.15 118.83,387.84 117.48,387.52 116.15,387.20 114.85,386.87 113.58,386.53 112.33,386.19 111.10,385.84 109.90,385.49 108.71,385.13 107.56,384.76 106.42,384.38 105.30,384.00 104.21,383.61 103.13,383.21 102.08,382.80 101.05,382.39 100.03,381.97 99.04,381.54 98.06,381.10 97.10,380.66 96.16,380.20 95.24,379.74 94.33,379.26 93.45,378.78 92.58,378.29 91.72,377.79 90.88,377.28 90.06,376.76 89.25,376.23 88.46,375.69 87.68,375.14 86.92,374.58 86.17,374.01 85.44,373.43 84.72,372.83 84.01,372.23 83.32,371.61 82.64,370.98 81.98,370.34 81.32,369.69 80.68,369.02 80.05,368.34 79.43,367.65 78.82,366.95 78.23,366.23 77.65,365.50 77.07,364.75 76.51,363.99 75.96,363.21 75.42,362.42 74.89,361.62 74.37,360.80 73.86,359.96 73.35,359.11 72.86,358.24 72.38,357.35 71.91,356.45 71.44,355.53 70.99,354.59 70.54,353.63 70.10,352.66 69.67,351.66 69.25,350.65 68.83,349.62 68.43,348.57 68.03,347.50 67.64,346.40 67.25,345.29 66.88,344.15 66.51,343.00 66.15,341.82 65.79,340.62 65.44,339.39 65.10,338.14 64.76,336.87 64.43,335.57 64.11,334.25 63.79,332.90 63.48,331.53 63.18,330.13 62.88,328.70 62.58,327.25 62.29,325.77 62.01,324.25 61.73,322.71 61.46,321.15 61.19,319.55 60.93,317.92 60.67,316.25 60.42,314.56 60.17,312.83 59.93,311.07 59.69,309.28 59.46,307.45 59.23,305.59 59.00,303.69 58.78,301.75 58.57,299.78 58.35,297.77 58.15,295.72 57.94,293.63 57.74,291.50 57.54,289.33 57.35,287.12 57.16,284.87 56.97,282.57 56.79,280.23 56.61,277.84 56.44,275.41 56.26,272.93 56.09,270.40 55.93,267.83 55.77,265.20 55.61,262.53 55.45,259.80" fill="none" stroke="#000" stroke-width="1.3" stroke-dasharray="4.6 4.6"/>
<polyline points="215.90,334.46 215.13,334.14 214.37,333.82 213.60,333.49 212.84,333.17 212.09,332.84 211.34,332.52 210.59,332.19 209.84,331.86 209.10,331.52 208.36,331.19 207.63,330.86 206.90,330.52 206.17,330.18 205.44,329.84 204.72,329.50 204.01,329.16 203.29,328.81 202.58,328.47 201.87,328.12 201.17,327.77 200.46,327.42 199.76,327.07 199.07,326.71 198.38,326.36 197.69,326.00 197.00,325.64 196.32,325.28 195.64,324.92 194.96,324.55 194.29,324.19 193.62,323.82 192.95,323.45 192.29,323.08 191.62,322.71 190.97,322.34 190.31,321.96 189.66,321.58 189.01,321.20 188.36,320.82 187.72,320.44 187.08,320.06 186.44,319.67 185.80,319.28 185.17,318.89 184.54,318.50 183.92,318.11 183.29,317.71 182.67,317.32 182.06,316.92 181.44,316.52 180.83,316.12 180.22,315.71 179.61,315.30 179.01,314.90 178.41,314.49 177.81,314.08 177.22,313.66 176.62,313.25 176.03,312.83 175.45,312.41 174.86,311.99 174.28,311.57 173.70,311.14 173.12,310.71 172.55,310.29 171.98,309.85 171.41,309.42 170.84,308.99 170.28,308.55 169.72,308.11 169.16,307.67 168.60,307.23 168.05,306.78 167.50,306.34 166.95,305.89 166.41,305.44 165.86,304.98 165.32,304.53 164.78,304.07 164.25,303.61 163.71,303.15 163.18,302.69 162.65,302.22 162.13,301.75 161.60,301.28 161.08,300.81 160.56,300.34 160.05,299.86 159.53,299.38 159.02,298.90 158.51,298.42 158.00,297.93 157.50,297.44 156.99,296.95 156.49,296.46 156.00,295.97 155.50,295.47 155.01,294.97 154.52,294.47 154.03,293.97 153.54,293.46 153.05,292.95 152.57,292.44 152.09,291.93 151.61,291.42 151.14,290.90 150.66,290.38 150.19,289.86 149.72,289.33 149.26,288.81 148.79,288.28 148.33,287.74 147.87,287.21 147.41,286.67 146.95,286.13 146.50,285.59 146.04,285.05 145.59,284.50 145.15,283.95 144.70,283.40 144.25,282.85 143.81,282.29 143.37,281.73 142.93,281.17 142.50,280.61 142.06,280.04 141.63,279.47 141.20,278.90 140.77,278.32 140.35,277.75 139.92,277.17 139.50,276.58 139.08,276.00 138.66,275.41 138.24,274.82 137.83,274.23 137.41,273.63 137.00,273.03 136.59,272.43 136.19,271.82 135.78,271.22 135.38,270.61 134.98,269.99 134.58,269.38 134.18,268.76 133.78,268.14 133.39,267.52 132.99,266.89 132.60,266.26 132.21,265.63 131.83,264.99 131.44,264.35 131.06,263.71 130.67,263.07 130.29,262.42 129.92,261.77 129.54,261.12 129.16,260.46 128.79,259.80" fill="none" stroke="#000" stroke-width="1.3"/>
<polyline points="215.90,264.62 215.86,264.59 215.83,264.56 215.79,264.53 215.76,264.50 215.72,264.47 215.68,264.44 215.65,264.41 215.61,264.38 215.58,264.35 215.54,264.32 215.51,264.29 215.47,264.26 215.43,264.23 215.40,264.20 215.36,264.17 215.33,264.14 215.29,264.11 215.25,264.08 215.22,264.05 215.18,264.02 215.15,263.99 215.11,263.96 215.08,263.93 215.04,263.90 215.00,263.87 214.97,263.84 214.93,263.81 214.90,263.78 214.86,263.75 214.82,263.72 214.79,263.69 214.75,263.66 214.72,263.63 214.68,263.60 214.65,263.57 214.61,263.54 214.58,263.51 214.54,263.48 214.50,263.45 214.47,263.42 214.43,263.39 214.40,263.36 214.36,263.33 214.33,263.30 214.29,263.27 214.25,263.24 214.22,263.21 214.18,263.18 214.15,263.15 214.11,263.12 214.08,263.09 214.04,263.06 214.01,263.03 213.97,263.00 213.93,262.97 213.90,262.94 213.86,262.91 213.83,262.88 213.79,262.85 213.76,262.82 213.72,262.79 213.69,262.76 213.65,262.73 213.61,262.70 213.58,262.67 213.54,262.64 213.51,262.61 213.47,262.58 213.44,262.55 213.40,262.52 213.37,262.49 213.33,262.46 213.30,262.43 213.26,262.40 213.23,262.36 213.19,262.33 213.15,262.30 213.12,262.27 213.08,262.24 213.05,262.21 213.01,262.18 212.98,262.15 212.94,262.12 212.91,262.09 212.87,262.06 212.84,262.03 212.80,262.00 212.77,261.97 212.73,261.94 212.70,261.91 212.66,261.88 212.62,261.85 212.59,261.82 212.55,261.79 212.52,261.76 212.48,261.73 212.45,261.70 212.41,261.67 212.38,261.64 212.34,261.61 212.31,261.58 212.27,261.55 212.24,261.52 212.20,261.48 212.17,261.45 212.13,261.42 212.10,261.39 212.06,261.36 212.03,261.33 211.99,261.30 211.96,261.27 211.92,261.24 211.89,261.21 211.85,261.18 211.82,261.15 211.78,261.12 211.75,261.09 211.71,261.06 211.68,261.03 211.64,261.00 211.61,260.97 211.57,260.94 211.54,260.90 211.50,260.87 211.47,260.84 211.43,260.81 211.40,260.78 211.36,260.75 211.33,260.72 211.29,260.69 211.26,260.66 211.22,260.63 211.19,260.60 211.15,260.57 211.12,260.54 211.08,260.51 211.05,260.48 211.01,260.45 210.98,260.41 210.94,260.38 210.91,260.35 210.87,260.32 210.84,260.29 210.80,260.26 210.77,260.23 210.73,260.20 210.70,260.17 210.66,260.14 210.63,260.11 210.59,260.08 210.56,260.05 210.52,260.02 210.49,259.98 210.45,259.95 210.42,259.92 210.38,259.89 210.35,259.86 210.31,259.83 210.28,259.80" fill="none" stroke="#000" stroke-width="1.3" stroke-dasharray="1.15 3.45"/>
<rect x="39.3" y="253.1" width="184.90" height="157.70" fill="none" stroke="#333" stroke-width="1.1"/>
<line x1="33.70" y1="404.30" x2="39.3" y2="404.30" stroke="#333" stroke-width="1.6"/>
<text x="29.60" y="407.25" text-anchor="end" font-size="8.6" fill="#4d4d4d" font-family="Liberation Sans, sans-serif">0</text>
<line x1="33.70" y1="375.40" x2="39.3" y2="375.40" stroke="#333" stroke-width="1.6"/>
<text x="29.60" y="378.35" text-anchor="end" font-size="8.6" fill="#4d4d4d" font-family="Liberation Sans, sans-serif">20</text>
<line x1="33.70" y1="346.50" x2="39.3" y2="346.50" stroke="#333" stroke-width="1.6"/>
<text x="29.60" y="349.45" text-anchor="end" font-size="8.6" fill="#4d4d4d" font-family="Liberation Sans, sans-serif">40</text>
<line x1="33.70" y1="317.60" x2="39.3" y2="317.60" stroke="#333" stroke-width="1.6"/>
<text x="29.60" y="320.55" text-anchor="end" font-size="8.6" fill="#4d4d4d" font-family="Liberation Sans, sans-serif">60</text>
<line x1="33.70" y1="288.70" x2="39.3" y2="288.70" stroke="#333" stroke-width="1.6"/>
<text x="29.60" y="291.65" text-anchor="end" font-size="8.6" fill="#4d4d4d" font-family="Liberation Sans, sans-serif">80</text>
<line x1="33.70" y1="259.80" x2="39.3" y2="259.80" stroke="#333" stroke-width="1.6"/>
<text x="29.60" y="262.75" text-anchor="end" font-size="8.6" fill="#4d4d4d" font-family="Liberation Sans, sans-serif">100</text>
<line x1="47.30" y1="410.8" x2="47.30" y2="416.50" stroke="#333" stroke-width="1.6"/>
<text x="47.30" y="426.70" text-anchor="middle" font-size="8.6" fill="#4d4d4d" font-family="Liberation Sans, sans-serif">0</text>
<line x1="103.50" y1="410.8" x2="103.50" y2="416.50" stroke="#333" stroke-width="1.6"/>
<text x="103.50" y="426.70" text-anchor="middle" font-size="8.6" fill="#4d4d4d" font-family="Liberation Sans, sans-serif">1</text>
<line x1="159.70" y1="410.8" x2="159.70" y2="416.50" stroke="#333" stroke-width="1.6"/>
<text x="159.70" y="426.70" text-anchor="middle" font-size="8.6" fill="#4d4d4d" font-family="Liberation Sans, sans-serif">2</text>
<line x1="215.90" y1="410.8" x2="215.90" y2="416.50" stroke="#333" stroke-width="1.6"/>
<text x="215.90" y="426.70" text-anchor="middle" font-size="8.6" fill="#4d4d4d" font-family="Liberation Sans, sans-serif">3</text>
<line x1="305.40" y1="253.1" x2="305.40" y2="410.8" stroke="#ebebeb" stroke-width="0.7"/>
<line x1="361.60" y1="253.1" x2="361.60" y2="410.8" stroke="#ebebeb" stroke-width="0.7"/>
<line x1="417.80" y1="253.1" x2="417.80" y2="410.8" stroke="#ebebeb" stroke-width="0.7"/>
<line x1="269.3" y1="389.85" x2="454.2" y2="389.85" stroke="#ebebeb" stroke-width="0.7"/>
<line x1="269.3" y1="360.95" x2="454.2" y2="360.95" stroke="#ebebeb" stroke-width="0.7"/>
<line x1="269.3" y1="332.05" x2="454.2" y2="332.05" stroke="#ebebeb" stroke-width="0.7"/>
<line x1="269.3" y1="303.15" x2="454.2" y2="303.15" stroke="#ebebeb" stroke-width="0.7"/>
<line x1="269.3" y1="274.25" x2="454.2" y2="274.25" stroke="#ebebeb" stroke-width="0.7"/>
<line x1="277.30" y1="253.1" x2="277.30" y2="410.8" stroke="#ebebeb" stroke-width="1.4"/>
<line x1="333.50" y1="253.1" x2="333.50" y2="410.8" stroke="#ebebeb" stroke-width="1.4"/>
<line x1="389.70" y1="253.1" x2="389.70" y2="410.8" stroke="#ebebeb" stroke-width="1.4"/>
<line x1="445.90" y1="253.1" x2="445.90" y2="410.8" stroke="#ebebeb" stroke-width="1.4"/>
<line x1="269.3" y1="404.30" x2="454.2" y2="404.30" stroke="#ebebeb" stroke-width="1.4"/>
<line x1="269.3" y1="375.40" x2="454.2" y2="375.40" stroke="#ebebeb" stroke-width="1.4"/>
<line x1="269.3" y1="346.50" x2="454.2" y2="346.50" stroke="#ebebeb" stroke-width="1.4"/>
<line x1="269.3" y1="317.60" x2="454.2" y2="317.60" stroke="#ebebeb" stroke-width="1.4"/>
<line x1="269.3" y1="288.70" x2="454.2" y2="288.70" stroke="#ebebeb" stroke-width="1.4"/>
<line x1="269.3" y1="259.80" x2="454.2" y2="259.80" stroke="#ebebeb" stroke-width="1.4"/>
<g filter="url(#cm325)" shape-rendering="crispEdges"><rect x="277.00" y="260.10" width="169.25" height="143.70" fill="#000"/><rect x="277.00" y="260.10" width="169.25" height="143.70" fill="url(#gx)" mask="url(#my)"/></g>
<polyline points="445.90,388.65 443.56,388.43 441.25,388.20 438.98,387.98 436.73,387.75 434.52,387.51 432.34,387.28 430.18,387.04 428.06,386.79 425.97,386.55 423.91,386.30 421.87,386.04 419.86,385.79 417.88,385.53 415.93,385.26 414.01,384.99 412.11,384.72 410.24,384.45 408.39,384.17 406.58,383.88 404.78,383.60 403.01,383.31 401.27,383.01 399.55,382.71 397.85,382.41 396.18,382.10 394.52,381.79 392.90,381.47 391.29,381.15 389.71,380.82 388.15,380.49 386.61,380.16 385.09,379.82 383.60,379.47 382.12,379.12 380.67,378.77 379.23,378.41 377.82,378.04 376.42,377.67 375.05,377.30 373.69,376.92 372.35,376.53 371.03,376.14 369.73,375.75 368.45,375.34 367.18,374.94 365.94,374.52 364.70,374.10 363.49,373.68 362.30,373.25 361.12,372.81 359.95,372.37 358.80,371.92 357.67,371.46 356.56,371.00 355.46,370.53 354.37,370.06 353.30,369.57 352.25,369.08 351.21,368.59 350.18,368.09 349.17,367.58 348.17,367.06 347.19,366.54 346.22,366.00 345.26,365.46 344.32,364.92 343.39,364.36 342.47,363.80 341.57,363.23 340.67,362.65 339.79,362.07 338.93,361.47 338.07,360.87 337.23,360.26 336.40,359.64 335.58,359.01 334.77,358.37 333.97,357.73 333.18,357.07 332.41,356.41 331.64,355.73 330.89,355.05 330.14,354.35 329.41,353.65 328.69,352.94 327.97,352.22 327.27,351.48 326.58,350.74 325.89,349.98 325.22,349.22 324.55,348.45 323.90,347.66 323.25,346.86 322.61,346.05 321.98,345.23 321.36,344.40 320.75,343.56 320.15,342.70 319.55,341.84 318.97,340.96 318.39,340.07 317.82,339.16 317.26,338.24 316.70,337.31 316.15,336.37 315.61,335.42 315.08,334.45 314.56,333.46 314.04,332.47 313.53,331.45 313.03,330.43 312.53,329.39 312.04,328.33 311.56,327.27 311.09,326.18 310.62,325.08 310.15,323.97 309.70,322.84 309.25,321.69 308.80,320.53 308.37,319.35 307.94,318.15 307.51,316.94 307.09,315.71 306.68,314.46 306.27,313.20 305.87,311.91 305.47,310.61 305.08,309.29 304.69,307.96 304.31,306.60 303.94,305.23 303.57,303.83 303.21,302.42 302.85,300.98 302.49,299.53 302.14,298.05 301.80,296.56 301.46,295.04 301.12,293.50 300.79,291.94 300.46,290.36 300.14,288.76 299.83,287.13 299.51,285.48 299.20,283.81 298.90,282.11 298.60,280.39 298.31,278.65 298.01,276.88 297.73,275.09 297.44,273.27 297.16,271.42 296.89,269.55 296.62,267.66 296.35,265.73 296.08,263.78 295.82,261.81 295.56,259.80" fill="none" stroke="#000" stroke-width="1.3" stroke-dasharray="4.6 4.6"/>
<rect x="269.3" y="253.1" width="184.90" height="157.70" fill="none" stroke="#333" stroke-width="1.1"/>
<line x1="263.70" y1="404.30" x2="269.3" y2="404.30" stroke="#333" stroke-width="1.6"/>
<text x="259.60" y="407.25" text-anchor="end" font-size="8.6" fill="#4d4d4d" font-family="Liberation Sans, sans-serif">0</text>
<line x1="263.70" y1="375.40" x2="269.3" y2="375.40" stroke="#333" stroke-width="1.6"/>
<text x="259.60" y="378.35" text-anchor="end" font-size="8.6" fill="#4d4d4d" font-family="Liberation Sans, sans-serif">20</text>
<line x1="263.70" y1="346.50" x2="269.3" y2="346.50" stroke="#333" stroke-width="1.6"/>
<text x="259.60" y="349.45" text-anchor="end" font-size="8.6" fill="#4d4d4d" font-family="Liberation Sans, sans-serif">40</text>
<line x1="263.70" y1="317.60" x2="269.3" y2="317.60" stroke="#333" stroke-width="1.6"/>
<text x="259.60" y="320.55" text-anchor="end" font-size="8.6" fill="#4d4d4d" font-family="Liberation Sans, sans-serif">60</text>
<line x1="263.70" y1="288.70" x2="269.3" y2="288.70" stroke="#333" stroke-width="1.6"/>
<text x="259.60" y="291.65" text-anchor="end" font-size="8.6" fill="#4d4d4d" font-family="Liberation Sans, sans-serif">80</text>
<line x1="263.70" y1="259.80" x2="269.3" y2="259.80" stroke="#333" stroke-width="1.6"/>
<text x="259.60" y="262.75" text-anchor="end" font-size="8.6" fill="#4d4d4d" font-family="Liberation Sans, sans-serif">100</text>
<line x1="277.30" y1="410.8" x2="277.30" y2="416.50" stroke="#333" stroke-width="1.6"/>
<text x="277.30" y="426.70" text-anchor="middle" font-size="8.6" fill="#4d4d4d" font-family="Liberation Sans, sans-serif">0</text>
<line x1="333.50" y1="410.8" x2="333.50" y2="416.50" stroke="#333" stroke-width="1.6"/>
<text x="333.50" y="426.70" text-anchor="middle" font-size="8.6" fill="#4d4d4d" font-family="Liberation Sans, sans-serif">1</text>
<line x1="389.70" y1="410.8" x2="389.70" y2="416.50" stroke="#333" stroke-width="1.6"/>
<text x="389.70" y="426.70" text-anchor="middle" font-size="8.6" fill="#4d4d4d" font-family="Liberation Sans, sans-serif">2</text>
<line x1="445.90" y1="410.8" x2="445.90" y2="416.50" stroke="#333" stroke-width="1.6"/>
<text x="445.90" y="426.70" text-anchor="middle" font-size="8.6" fill="#4d4d4d" font-family="Liberation Sans, sans-serif">3</text>
<line x1="535.40" y1="253.1" x2="535.40" y2="410.8" stroke="#ebebeb" stroke-width="0.7"/>
<line x1="591.60" y1="253.1" x2="591.60" y2="410.8" stroke="#ebebeb" stroke-width="0.7"/>
<line x1="647.80" y1="253.1" x2="647.80" y2="410.8" stroke="#ebebeb" stroke-width="0.7"/>
<line x1="499.3" y1="389.85" x2="684.2" y2="389.85" stroke="#ebebeb" stroke-width="0.7"/>
<line x1="499.3" y1="360.95" x2="684.2" y2="360.95" stroke="#ebebeb" stroke-width="0.7"/>
<line x1="499.3" y1="332.05" x2="684.2" y2="332.05" stroke="#ebebeb" stroke-width="0.7"/>
<line x1="499.3" y1="303.15" x2="684.2" y2="303.15" stroke="#ebebeb" stroke-width="0.7"/>
<line x1="499.3" y1="274.25" x2="684.2" y2="274.25" stroke="#ebebeb" stroke-width="0.7"/>
<line x1="507.30" y1="253.1" x2="507.30" y2="410.8" stroke="#ebebeb" stroke-width="1.4"/>
<line x1="563.50" y1="253.1" x2="563.50" y2="410.8" stroke="#ebebeb" stroke-width="1.4"/>
<line x1="619.70" y1="253.1" x2="619.70" y2="410.8" stroke="#ebebeb" stroke-width="1.4"/>
<line x1="675.90" y1="253.1" x2="675.90" y2="410.8" stroke="#ebebeb" stroke-width="1.4"/>
<line x1="499.3" y1="404.30" x2="684.2" y2="404.30" stroke="#ebebeb" stroke-width="1.4"/>
<line x1="499.3" y1="375.40" x2="684.2" y2="375.40" stroke="#ebebeb" stroke-width="1.4"/>
<line x1="499.3" y1="346.50" x2="684.2" y2="346.50" stroke="#ebebeb" stroke-width="1.4"/>
<line x1="499.3" y1="317.60" x2="684.2" y2="317.60" stroke="#ebebeb" stroke-width="1.4"/>
<line x1="499.3" y1="288.70" x2="684.2" y2="288.70" stroke="#ebebeb" stroke-width="1.4"/>
<line x1="499.3" y1="259.80" x2="684.2" y2="259.80" stroke="#ebebeb" stroke-width="1.4"/>
<g filter="url(#cm200)" shape-rendering="crispEdges"><rect x="507.00" y="260.10" width="169.25" height="143.70" fill="#000"/><rect x="507.00" y="260.10" width="169.25" height="143.70" fill="url(#gx)" mask="url(#my)"/></g>
<polyline points="675.90,394.67 673.05,394.50 670.25,394.33 667.50,394.16 664.80,393.99 662.14,393.81 659.52,393.63 656.95,393.45 654.42,393.26 651.94,393.07 649.50,392.88 647.10,392.68 644.73,392.48 642.41,392.28 640.13,392.07 637.89,391.86 635.68,391.65 633.52,391.43 631.38,391.21 629.29,390.99 627.23,390.76 625.20,390.52 623.21,390.29 621.25,390.05 619.33,389.80 617.44,389.55 615.58,389.30 613.75,389.04 611.95,388.78 610.18,388.51 608.45,388.24 606.74,387.97 605.06,387.69 603.41,387.40 601.79,387.11 600.19,386.82 598.62,386.51 597.08,386.21 595.56,385.90 594.07,385.58 592.61,385.26 591.17,384.93 589.75,384.60 588.36,384.26 586.99,383.92 585.64,383.57 584.32,383.21 583.02,382.85 581.74,382.48 580.48,382.11 579.25,381.73 578.03,381.34 576.84,380.94 575.66,380.54 574.51,380.13 573.37,379.72 572.26,379.30 571.16,378.87 570.08,378.43 569.02,377.99 567.98,377.53 566.96,377.07 565.95,376.61 564.96,376.13 563.98,375.65 563.03,375.15 562.09,374.65 561.16,374.14 560.25,373.63 559.36,373.10 558.48,372.56 557.61,372.02 556.76,371.46 555.93,370.90 555.11,370.33 554.30,369.74 553.51,369.15 552.73,368.55 551.96,367.93 551.20,367.31 550.46,366.67 549.73,366.02 549.02,365.37 548.31,364.70 547.62,364.02 546.94,363.33 546.27,362.62 545.61,361.91 544.97,361.18 544.33,360.44 543.70,359.68 543.09,358.92 542.48,358.14 541.89,357.35 541.31,356.54 540.73,355.72 540.17,354.88 539.61,354.03 539.07,353.17 538.53,352.29 538.00,351.40 537.48,350.49 536.97,349.57 536.47,348.63 535.98,347.67 535.50,346.70 535.02,345.71 534.55,344.70 534.09,343.68 533.64,342.64 533.19,341.58 532.76,340.50 532.33,339.40 531.90,338.29 531.49,337.16 531.08,336.00 530.68,334.83 530.28,333.64 529.90,332.42 529.51,331.19 529.14,329.93 528.77,328.65 528.41,327.35 528.05,326.03 527.70,324.69 527.36,323.32 527.02,321.93 526.68,320.51 526.36,319.07 526.04,317.61 525.72,316.12 525.41,314.61 525.10,313.07 524.80,311.50 524.51,309.91 524.22,308.28 523.93,306.63 523.65,304.96 523.37,303.25 523.10,301.51 522.83,299.75 522.57,297.95 522.31,296.13 522.06,294.27 521.81,292.38 521.57,290.46 521.33,288.50 521.09,286.51 520.86,284.49 520.63,282.43 520.40,280.34 520.18,278.21 519.96,276.04 519.75,273.84 519.54,271.60 519.33,269.32 519.13,267.00 518.93,264.64 518.73,262.24 518.54,259.80" fill="none" stroke="#000" stroke-width="1.3" stroke-dasharray="4.6 4.6"/>
<polyline points="675.90,307.97 675.47,307.72 675.04,307.47 674.62,307.23 674.19,306.98 673.76,306.73 673.34,306.48 672.92,306.23 672.50,305.98 672.07,305.73 671.65,305.48 671.24,305.23 670.82,304.97 670.40,304.72 669.99,304.47 669.57,304.21 669.16,303.95 668.75,303.70 668.34,303.44 667.93,303.18 667.52,302.93 667.11,302.67 666.70,302.41 666.30,302.15 665.89,301.89 665.49,301.63 665.08,301.36 664.68,301.10 664.28,300.84 663.88,300.57 663.48,300.31 663.08,300.04 662.69,299.78 662.29,299.51 661.90,299.24 661.50,298.97 661.11,298.70 660.72,298.43 660.33,298.16 659.94,297.89 659.55,297.62 659.16,297.35 658.78,297.08 658.39,296.80 658.01,296.53 657.62,296.25 657.24,295.98 656.86,295.70 656.48,295.42 656.10,295.14 655.72,294.87 655.34,294.59 654.96,294.31 654.59,294.03 654.21,293.74 653.84,293.46 653.46,293.18 653.09,292.90 652.72,292.61 652.35,292.33 651.98,292.04 651.61,291.75 651.24,291.47 650.88,291.18 650.51,290.89 650.15,290.60 649.78,290.31 649.42,290.02 649.06,289.73 648.70,289.43 648.34,289.14 647.98,288.85 647.62,288.55 647.26,288.26 646.91,287.96 646.55,287.66 646.20,287.36 645.84,287.07 645.49,286.77 645.14,286.47 644.79,286.17 644.44,285.86 644.09,285.56 643.74,285.26 643.39,284.95 643.04,284.65 642.70,284.34 642.35,284.04 642.01,283.73 641.67,283.42 641.32,283.11 640.98,282.81 640.64,282.49 640.30,282.18 639.96,281.87 639.63,281.56 639.29,281.25 638.95,280.93 638.62,280.62 638.28,280.30 637.95,279.98 637.62,279.67 637.29,279.35 636.95,279.03 636.62,278.71 636.29,278.39 635.97,278.07 635.64,277.75 635.31,277.42 634.99,277.10 634.66,276.77 634.34,276.45 634.01,276.12 633.69,275.79 633.37,275.47 633.05,275.14 632.73,274.81 632.41,274.48 632.09,274.15 631.77,273.81 631.45,273.48 631.14,273.15 630.82,272.81 630.51,272.47 630.19,272.14 629.88,271.80 629.57,271.46 629.26,271.12 628.95,270.78 628.64,270.44 628.33,270.10 628.02,269.76 627.71,269.41 627.41,269.07 627.10,268.72 626.79,268.38 626.49,268.03 626.19,267.68 625.88,267.33 625.58,266.98 625.28,266.63 624.98,266.28 624.68,265.93 624.38,265.58 624.08,265.22 623.79,264.87 623.49,264.51 623.19,264.15 622.90,263.80 622.60,263.44 622.31,263.08 622.02,262.72 621.72,262.36 621.43,261.99 621.14,261.63 620.85,261.27 620.56,260.90 620.27,260.54 619.99,260.17 619.70,259.80" fill="none" stroke="#000" stroke-width="1.3"/>
<rect x="499.3" y="253.1" width="184.90" height="157.70" fill="none" stroke="#333" stroke-width="1.1"/>
<line x1="493.70" y1="404.30" x2="499.3" y2="404.30" stroke="#333" stroke-width="1.6"/>
<text x="489.60" y="407.25" text-anchor="end" font-size="8.6" fill="#4d4d4d" font-family="Liberation Sans, sans-serif">0</text>
<line x1="493.70" y1="375.40" x2="499.3" y2="375.40" stroke="#333" stroke-width="1.6"/>
<text x="489.60" y="378.35" text-anchor="end" font-size="8.6" fill="#4d4d4d" font-family="Liberation Sans, sans-serif">20</text>
<line x1="493.70" y1="346.50" x2="499.3" y2="346.50" stroke="#333" stroke-width="1.6"/>
<text x="489.60" y="349.45" text-anchor="end" font-size="8.6" fill="#4d4d4d" font-family="Liberation Sans, sans-serif">40</text>
<line x1="493.70" y1="317.60" x2="499.3" y2="317.60" stroke="#333" stroke-width="1.6"/>
<text x="489.60" y="320.55" text-anchor="end" font-size="8.6" fill="#4d4d4d" font-family="Liberation Sans, sans-serif">60</text>
<line x1="493.70" y1="288.70" x2="499.3" y2="288.70" stroke="#333" stroke-width="1.6"/>
<text x="489.60" y="291.65" text-anchor="end" font-size="8.6" fill="#4d4d4d" font-family="Liberation Sans, sans-serif">80</text>
<line x1="493.70" y1="259.80" x2="499.3" y2="259.80" stroke="#333" stroke-width="1.6"/>
<text x="489.60" y="262.75" text-anchor="end" font-size="8.6" fill="#4d4d4d" font-family="Liberation Sans, sans-serif">100</text>
<line x1="507.30" y1="410.8" x2="507.30" y2="416.50" stroke="#333" stroke-width="1.6"/>
<text x="507.30" y="426.70" text-anchor="middle" font-size="8.6" fill="#4d4d4d" font-family="Liberation Sans, sans-serif">0</text>
<line x1="563.50" y1="410.8" x2="563.50" y2="416.50" stroke="#333" stroke-width="1.6"/>
<text x="563.50" y="426.70" text-anchor="middle" font-size="8.6" fill="#4d4d4d" font-family="Liberation Sans, sans-serif">1</text>
<line x1="619.70" y1="410.8" x2="619.70" y2="416.50" stroke="#333" stroke-width="1.6"/>
<text x="619.70" y="426.70" text-anchor="middle" font-size="8.6" fill="#4d4d4d" font-family="Liberation Sans, sans-serif">2</text>
<line x1="675.90" y1="410.8" x2="675.90" y2="416.50" stroke="#333" stroke-width="1.6"/>
<text x="675.90" y="426.70" text-anchor="middle" font-size="8.6" fill="#4d4d4d" font-family="Liberation Sans, sans-serif">3</text>
<text transform="translate(8.1,331.95) rotate(-90)" text-anchor="middle" font-size="10.8" fill="#000" font-family="Liberation Sans, sans-serif">Concordant variant prevalence (%)</text>
<line x1="75.40" y1="477.6" x2="75.40" y2="635.3" stroke="#ebebeb" stroke-width="0.7"/>
<line x1="131.60" y1="477.6" x2="131.60" y2="635.3" stroke="#ebebeb" stroke-width="0.7"/>
<line x1="187.80" y1="477.6" x2="187.80" y2="635.3" stroke="#ebebeb" stroke-width="0.7"/>
<line x1="39.3" y1="614.35" x2="224.2" y2="614.35" stroke="#ebebeb" stroke-width="0.7"/>
<line x1="39.3" y1="585.45" x2="224.2" y2="585.45" stroke="#ebebeb" stroke-width="0.7"/>
<line x1="39.3" y1="556.55" x2="224.2" y2="556.55" stroke="#ebebeb" stroke-width="0.7"/>
<line x1="39.3" y1="527.65" x2="224.2" y2="527.65" stroke="#ebebeb" stroke-width="0.7"/>
<line x1="39.3" y1="498.75" x2="224.2" y2="498.75" stroke="#ebebeb" stroke-width="0.7"/>
<line x1="47.30" y1="477.6" x2="47.30" y2="635.3" stroke="#ebebeb" stroke-width="1.4"/>
<line x1="103.50" y1="477.6" x2="103.50" y2="635.3" stroke="#ebebeb" stroke-width="1.4"/>
<line x1="159.70" y1="477.6" x2="159.70" y2="635.3" stroke="#ebebeb" stroke-width="1.4"/>
<line x1="215.90" y1="477.6" x2="215.90" y2="635.3" stroke="#ebebeb" stroke-width="1.4"/>
<line x1="39.3" y1="628.80" x2="224.2" y2="628.80" stroke="#ebebeb" stroke-width="1.4"/>
<line x1="39.3" y1="599.90" x2="224.2" y2="599.90" stroke="#ebebeb" stroke-width="1.4"/>
<line x1="39.3" y1="571.00" x2="224.2" y2="571.00" stroke="#ebebeb" stroke-width="1.4"/>
<line x1="39.3" y1="542.10" x2="224.2" y2="542.10" stroke="#ebebeb" stroke-width="1.4"/>
<line x1="39.3" y1="513.20" x2="224.2" y2="513.20" stroke="#ebebeb" stroke-width="1.4"/>
<line x1="39.3" y1="484.30" x2="224.2" y2="484.30" stroke="#ebebeb" stroke-width="1.4"/>
<g filter="url(#cm109)" shape-rendering="crispEdges"><rect x="47.00" y="484.60" width="169.25" height="143.70" fill="#000"/><rect x="47.00" y="484.60" width="169.25" height="143.70" fill="url(#gx)" mask="url(#my)"/></g>
<polyline points="215.90,623.55 212.42,623.44 209.01,623.33 205.68,623.21 202.41,623.09 199.21,622.97 196.07,622.85 193.01,622.72 190.00,622.60 187.05,622.47 184.17,622.33 181.35,622.20 178.58,622.06 175.87,621.92 173.22,621.77 170.62,621.62 168.08,621.47 165.58,621.32 163.14,621.16 160.75,621.00 158.41,620.83 156.12,620.67 153.87,620.49 151.68,620.32 149.52,620.14 147.41,619.96 145.35,619.77 143.32,619.58 141.34,619.39 139.40,619.19 137.50,618.99 135.64,618.78 133.82,618.57 132.03,618.35 130.28,618.13 128.57,617.91 126.90,617.68 125.25,617.44 123.64,617.21 122.07,616.96 120.53,616.71 119.02,616.46 117.54,616.20 116.09,615.93 114.67,615.66 113.28,615.38 111.92,615.10 110.58,614.81 109.28,614.52 108.00,614.22 106.75,613.91 105.52,613.60 104.32,613.28 103.14,612.95 101.99,612.61 100.86,612.27 99.76,611.93 98.67,611.57 97.61,611.21 96.58,610.84 95.56,610.46 94.56,610.07 93.59,609.68 92.63,609.27 91.70,608.86 90.78,608.44 89.88,608.01 89.01,607.58 88.15,607.13 87.30,606.67 86.48,606.21 85.67,605.73 84.88,605.24 84.10,604.75 83.34,604.24 82.60,603.72 81.87,603.19 81.16,602.66 80.46,602.10 79.77,601.54 79.10,600.97 78.45,600.38 77.81,599.78 77.18,599.17 76.56,598.55 75.96,597.91 75.36,597.26 74.79,596.59 74.22,595.92 73.66,595.22 73.12,594.52 72.59,593.79 72.06,593.06 71.55,592.30 71.05,591.53 70.56,590.75 70.08,589.95 69.61,589.13 69.15,588.29 68.70,587.44 68.26,586.57 67.83,585.68 67.40,584.77 66.99,583.84 66.58,582.89 66.18,581.93 65.80,580.94 65.41,579.93 65.04,578.90 64.67,577.85 64.32,576.78 63.96,575.68 63.62,574.56 63.28,573.42 62.95,572.25 62.63,571.06 62.31,569.85 62.00,568.60 61.70,567.34 61.40,566.04 61.11,564.72 60.83,563.37 60.55,561.99 60.28,560.58 60.01,559.14 59.75,557.68 59.49,556.18 59.24,554.65 58.99,553.09 58.75,551.49 58.51,549.86 58.28,548.20 58.06,546.50 57.83,544.77 57.62,543.00 57.40,541.19 57.20,539.34 56.99,537.46 56.79,535.53 56.60,533.57 56.40,531.56 56.22,529.52 56.03,527.42 55.85,525.29 55.67,523.11 55.50,520.88 55.33,518.61 55.17,516.28 55.00,513.91 54.85,511.49 54.69,509.02 54.54,506.50 54.39,503.92 54.24,501.29 54.10,498.60 53.96,495.86 53.82,493.06 53.69,490.20 53.55,487.28 53.43,484.30" fill="none" stroke="#000" stroke-width="1.3" stroke-dasharray="4.6 4.6"/>
<polyline points="215.90,576.30 214.83,575.96 213.77,575.63 212.71,575.29 211.66,574.94 210.62,574.60 209.58,574.25 208.55,573.91 207.53,573.55 206.51,573.20 205.50,572.85 204.49,572.49 203.50,572.13 202.51,571.77 201.52,571.40 200.54,571.04 199.57,570.67 198.60,570.30 197.64,569.92 196.69,569.55 195.74,569.17 194.80,568.79 193.86,568.40 192.93,568.02 192.01,567.63 191.09,567.24 190.18,566.85 189.27,566.45 188.37,566.05 187.47,565.65 186.58,565.25 185.70,564.84 184.82,564.43 183.95,564.02 183.08,563.61 182.22,563.19 181.36,562.77 180.51,562.35 179.67,561.93 178.82,561.50 177.99,561.07 177.16,560.64 176.34,560.20 175.52,559.76 174.70,559.32 173.89,558.88 173.09,558.43 172.29,557.98 171.50,557.53 170.71,557.07 169.93,556.62 169.15,556.15 168.38,555.69 167.61,555.22 166.84,554.75 166.09,554.28 165.33,553.80 164.58,553.33 163.84,552.84 163.10,552.36 162.36,551.87 161.63,551.38 160.91,550.88 160.19,550.39 159.47,549.89 158.76,549.38 158.05,548.87 157.35,548.36 156.65,547.85 155.95,547.33 155.26,546.81 154.58,546.29 153.90,545.76 153.22,545.23 152.55,544.70 151.88,544.16 151.22,543.62 150.56,543.08 149.90,542.53 149.25,541.98 148.60,541.42 147.96,540.86 147.32,540.30 146.69,539.74 146.06,539.17 145.43,538.60 144.81,538.02 144.19,537.44 143.57,536.86 142.96,536.27 142.35,535.68 141.75,535.08 141.15,534.48 140.56,533.88 139.96,533.27 139.38,532.66 138.79,532.05 138.21,531.43 137.63,530.81 137.06,530.18 136.49,529.55 135.92,528.92 135.36,528.28 134.80,527.64 134.25,526.99 133.70,526.34 133.15,525.69 132.60,525.03 132.06,524.37 131.52,523.70 130.99,523.03 130.46,522.35 129.93,521.67 129.41,520.99 128.88,520.30 128.37,519.61 127.85,518.91 127.34,518.21 126.83,517.50 126.33,516.79 125.83,516.08 125.33,515.36 124.83,514.63 124.34,513.90 123.85,513.17 123.37,512.43 122.88,511.69 122.40,510.94 121.93,510.18 121.45,509.43 120.98,508.66 120.51,507.90 120.05,507.12 119.59,506.35 119.13,505.57 118.67,504.78 118.22,503.99 117.77,503.19 117.32,502.39 116.88,501.58 116.44,500.77 116.00,499.95 115.56,499.12 115.13,498.30 114.70,497.46 114.27,496.62 113.84,495.78 113.42,494.93 113.00,494.07 112.59,493.21 112.17,492.35 111.76,491.48 111.35,490.60 110.94,489.72 110.54,488.83 110.14,487.93 109.74,487.03 109.34,486.13 108.95,485.22 108.56,484.30" fill="none" stroke="#000" stroke-width="1.3"/>
<polyline points="215.90,523.80 215.56,523.59 215.22,523.37 214.89,523.16 214.55,522.95 214.22,522.74 213.88,522.52 213.55,522.31 213.21,522.10 212.88,521.88 212.55,521.67 212.22,521.45 211.89,521.24 211.56,521.02 211.23,520.80 210.90,520.59 210.57,520.37 210.24,520.15 209.91,519.93 209.59,519.71 209.26,519.49 208.94,519.27 208.61,519.05 208.29,518.83 207.97,518.61 207.64,518.39 207.32,518.17 207.00,517.95 206.68,517.72 206.36,517.50 206.04,517.28 205.72,517.05 205.41,516.83 205.09,516.60 204.77,516.38 204.46,516.15 204.14,515.92 203.83,515.70 203.51,515.47 203.20,515.24 202.89,515.01 202.57,514.79 202.26,514.56 201.95,514.33 201.64,514.10 201.33,513.87 201.02,513.64 200.72,513.40 200.41,513.17 200.10,512.94 199.79,512.71 199.49,512.47 199.18,512.24 198.88,512.00 198.57,511.77 198.27,511.53 197.97,511.30 197.67,511.06 197.36,510.83 197.06,510.59 196.76,510.35 196.46,510.11 196.16,509.87 195.86,509.64 195.57,509.40 195.27,509.16 194.97,508.92 194.68,508.67 194.38,508.43 194.09,508.19 193.79,507.95 193.50,507.71 193.20,507.46 192.91,507.22 192.62,506.97 192.33,506.73 192.04,506.48 191.75,506.24 191.46,505.99 191.17,505.74 190.88,505.50 190.59,505.25 190.30,505.00 190.02,504.75 189.73,504.50 189.44,504.25 189.16,504.00 188.87,503.75 188.59,503.50 188.31,503.25 188.02,503.00 187.74,502.74 187.46,502.49 187.18,502.24 186.90,501.98 186.62,501.73 186.34,501.47 186.06,501.22 185.78,500.96 185.50,500.70 185.23,500.44 184.95,500.19 184.67,499.93 184.40,499.67 184.12,499.41 183.85,499.15 183.57,498.89 183.30,498.63 183.03,498.37 182.76,498.10 182.48,497.84 182.21,497.58 181.94,497.31 181.67,497.05 181.40,496.79 181.13,496.52 180.87,496.25 180.60,495.99 180.33,495.72 180.06,495.45 179.80,495.18 179.53,494.92 179.27,494.65 179.00,494.38 178.74,494.11 178.47,493.84 178.21,493.57 177.95,493.29 177.69,493.02 177.42,492.75 177.16,492.47 176.90,492.20 176.64,491.93 176.38,491.65 176.12,491.38 175.87,491.10 175.61,490.82 175.35,490.54 175.09,490.27 174.84,489.99 174.58,489.71 174.33,489.43 174.07,489.15 173.82,488.87 173.56,488.59 173.31,488.31 173.06,488.02 172.80,487.74 172.55,487.46 172.30,487.17 172.05,486.89 171.80,486.60 171.55,486.32 171.30,486.03 171.05,485.74 170.80,485.46 170.56,485.17 170.31,484.88 170.06,484.59 169.82,484.30" fill="none" stroke="#000" stroke-width="1.3" stroke-dasharray="1.15 3.45"/>
<rect x="39.3" y="477.6" width="184.90" height="157.70" fill="none" stroke="#333" stroke-width="1.1"/>
<line x1="33.70" y1="628.80" x2="39.3" y2="628.80" stroke="#333" stroke-width="1.6"/>
<text x="29.60" y="631.75" text-anchor="end" font-size="8.6" fill="#4d4d4d" font-family="Liberation Sans, sans-serif">0</text>
<line x1="33.70" y1="599.90" x2="39.3" y2="599.90" stroke="#333" stroke-width="1.6"/>
<text x="29.60" y="602.85" text-anchor="end" font-size="8.6" fill="#4d4d4d" font-family="Liberation Sans, sans-serif">20</text>
<line x1="33.70" y1="571.00" x2="39.3" y2="571.00" stroke="#333" stroke-width="1.6"/>
<text x="29.60" y="573.95" text-anchor="end" font-size="8.6" fill="#4d4d4d" font-family="Liberation Sans, sans-serif">40</text>
<line x1="33.70" y1="542.10" x2="39.3" y2="542.10" stroke="#333" stroke-width="1.6"/>
<text x="29.60" y="545.05" text-anchor="end" font-size="8.6" fill="#4d4d4d" font-family="Liberation Sans, sans-serif">60</text>
<line x1="33.70" y1="513.20" x2="39.3" y2="513.20" stroke="#333" stroke-width="1.6"/>
<text x="29.60" y="516.15" text-anchor="end" font-size="8.6" fill="#4d4d4d" font-family="Liberation Sans, sans-serif">80</text>
<line x1="33.70" y1="484.30" x2="39.3" y2="484.30" stroke="#333" stroke-width="1.6"/>
<text x="29.60" y="487.25" text-anchor="end" font-size="8.6" fill="#4d4d4d" font-family="Liberation Sans, sans-serif">100</text>
<line x1="47.30" y1="635.3" x2="47.30" y2="641.00" stroke="#333" stroke-width="1.6"/>
<text x="47.30" y="651.20" text-anchor="middle" font-size="8.6" fill="#4d4d4d" font-family="Liberation Sans, sans-serif">0</text>
<line x1="103.50" y1="635.3" x2="103.50" y2="641.00" stroke="#333" stroke-width="1.6"/>
<text x="103.50" y="651.20" text-anchor="middle" font-size="8.6" fill="#4d4d4d" font-family="Liberation Sans, sans-serif">1</text>
<line x1="159.70" y1="635.3" x2="159.70" y2="641.00" stroke="#333" stroke-width="1.6"/>
<text x="159.70" y="651.20" text-anchor="middle" font-size="8.6" fill="#4d4d4d" font-family="Liberation Sans, sans-serif">2</text>
<line x1="215.90" y1="635.3" x2="215.90" y2="641.00" stroke="#333" stroke-width="1.6"/>
<text x="215.90" y="651.20" text-anchor="middle" font-size="8.6" fill="#4d4d4d" font-family="Liberation Sans, sans-serif">3</text>
<text x="131.75" y="455.80" text-anchor="middle" font-size="9" fill="#000" font-family="Liberation Sans, sans-serif">molecular only</text>
<text x="131.75" y="465.20" text-anchor="middle" font-size="9" fill="#000" font-family="Liberation Sans, sans-serif">sequence molecular +</text>
<text x="0.40" y="457.80" font-size="10" font-weight="bold" fill="#000" font-family="Liberation Sans, sans-serif">d</text>
<line x1="305.40" y1="477.6" x2="305.40" y2="635.3" stroke="#ebebeb" stroke-width="0.7"/>
<line x1="361.60" y1="477.6" x2="361.60" y2="635.3" stroke="#ebebeb" stroke-width="0.7"/>
<line x1="417.80" y1="477.6" x2="417.80" y2="635.3" stroke="#ebebeb" stroke-width="0.7"/>
<line x1="269.3" y1="614.35" x2="454.2" y2="614.35" stroke="#ebebeb" stroke-width="0.7"/>
<line x1="269.3" y1="585.45" x2="454.2" y2="585.45" stroke="#ebebeb" stroke-width="0.7"/>
<line x1="269.3" y1="556.55" x2="454.2" y2="556.55" stroke="#ebebeb" stroke-width="0.7"/>
<line x1="269.3" y1="527.65" x2="454.2" y2="527.65" stroke="#ebebeb" stroke-width="0.7"/>
<line x1="269.3" y1="498.75" x2="454.2" y2="498.75" stroke="#ebebeb" stroke-width="0.7"/>
<line x1="277.30" y1="477.6" x2="277.30" y2="635.3" stroke="#ebebeb" stroke-width="1.4"/>
<line x1="333.50" y1="477.6" x2="333.50" y2="635.3" stroke="#ebebeb" stroke-width="1.4"/>
<line x1="389.70" y1="477.6" x2="389.70" y2="635.3" stroke="#ebebeb" stroke-width="1.4"/>
<line x1="445.90" y1="477.6" x2="445.90" y2="635.3" stroke="#ebebeb" stroke-width="1.4"/>
<line x1="269.3" y1="628.80" x2="454.2" y2="628.80" stroke="#ebebeb" stroke-width="1.4"/>
<line x1="269.3" y1="599.90" x2="454.2" y2="599.90" stroke="#ebebeb" stroke-width="1.4"/>
<line x1="269.3" y1="571.00" x2="454.2" y2="571.00" stroke="#ebebeb" stroke-width="1.4"/>
<line x1="269.3" y1="542.10" x2="454.2" y2="542.10" stroke="#ebebeb" stroke-width="1.4"/>
<line x1="269.3" y1="513.20" x2="454.2" y2="513.20" stroke="#ebebeb" stroke-width="1.4"/>
<line x1="269.3" y1="484.30" x2="454.2" y2="484.30" stroke="#ebebeb" stroke-width="1.4"/>
<rect x="277.00" y="484.60" width="169.25" height="143.70" fill="#4575b4"/>
<rect x="269.3" y="477.6" width="184.90" height="157.70" fill="none" stroke="#333" stroke-width="1.1"/>
<line x1="263.70" y1="628.80" x2="269.3" y2="628.80" stroke="#333" stroke-width="1.6"/>
<text x="259.60" y="631.75" text-anchor="end" font-size="8.6" fill="#4d4d4d" font-family="Liberation Sans, sans-serif">0</text>
<line x1="263.70" y1="599.90" x2="269.3" y2="599.90" stroke="#333" stroke-width="1.6"/>
<text x="259.60" y="602.85" text-anchor="end" font-size="8.6" fill="#4d4d4d" font-family="Liberation Sans, sans-serif">20</text>
<line x1="263.70" y1="571.00" x2="269.3" y2="571.00" stroke="#333" stroke-width="1.6"/>
<text x="259.60" y="573.95" text-anchor="end" font-size="8.6" fill="#4d4d4d" font-family="Liberation Sans, sans-serif">40</text>
<line x1="263.70" y1="542.10" x2="269.3" y2="542.10" stroke="#333" stroke-width="1.6"/>
<text x="259.60" y="545.05" text-anchor="end" font-size="8.6" fill="#4d4d4d" font-family="Liberation Sans, sans-serif">60</text>
<line x1="263.70" y1="513.20" x2="269.3" y2="513.20" stroke="#333" stroke-width="1.6"/>
<text x="259.60" y="516.15" text-anchor="end" font-size="8.6" fill="#4d4d4d" font-family="Liberation Sans, sans-serif">80</text>
<line x1="263.70" y1="484.30" x2="269.3" y2="484.30" stroke="#333" stroke-width="1.6"/>
<text x="259.60" y="487.25" text-anchor="end" font-size="8.6" fill="#4d4d4d" font-family="Liberation Sans, sans-serif">100</text>
<line x1="277.30" y1="635.3" x2="277.30" y2="641.00" stroke="#333" stroke-width="1.6"/>
<text x="277.30" y="651.20" text-anchor="middle" font-size="8.6" fill="#4d4d4d" font-family="Liberation Sans, sans-serif">0</text>
<line x1="333.50" y1="635.3" x2="333.50" y2="641.00" stroke="#333" stroke-width="1.6"/>
<text x="333.50" y="651.20" text-anchor="middle" font-size="8.6" fill="#4d4d4d" font-family="Liberation Sans, sans-serif">1</text>
<line x1="389.70" y1="635.3" x2="389.70" y2="641.00" stroke="#333" stroke-width="1.6"/>
<text x="389.70" y="651.20" text-anchor="middle" font-size="8.6" fill="#4d4d4d" font-family="Liberation Sans, sans-serif">2</text>
<line x1="445.90" y1="635.3" x2="445.90" y2="641.00" stroke="#333" stroke-width="1.6"/>
<text x="445.90" y="651.20" text-anchor="middle" font-size="8.6" fill="#4d4d4d" font-family="Liberation Sans, sans-serif">3</text>
<text x="361.75" y="455.80" text-anchor="middle" font-size="9" fill="#000" font-family="Liberation Sans, sans-serif">molecular follows 50% antigen +</text>
<text x="361.75" y="465.20" text-anchor="middle" font-size="9" fill="#000" font-family="Liberation Sans, sans-serif">sequence molecular +</text>
<text x="230.40" y="457.80" font-size="10" font-weight="bold" fill="#000" font-family="Liberation Sans, sans-serif">e</text>
<line x1="535.40" y1="477.6" x2="535.40" y2="635.3" stroke="#ebebeb" stroke-width="0.7"/>
<line x1="591.60" y1="477.6" x2="591.60" y2="635.3" stroke="#ebebeb" stroke-width="0.7"/>
<line x1="647.80" y1="477.6" x2="647.80" y2="635.3" stroke="#ebebeb" stroke-width="0.7"/>
<line x1="499.3" y1="614.35" x2="684.2" y2="614.35" stroke="#ebebeb" stroke-width="0.7"/>
<line x1="499.3" y1="585.45" x2="684.2" y2="585.45" stroke="#ebebeb" stroke-width="0.7"/>
<line x1="499.3" y1="556.55" x2="684.2" y2="556.55" stroke="#ebebeb" stroke-width="0.7"/>
<line x1="499.3" y1="527.65" x2="684.2" y2="527.65" stroke="#ebebeb" stroke-width="0.7"/>
<line x1="499.3" y1="498.75" x2="684.2" y2="498.75" stroke="#ebebeb" stroke-width="0.7"/>
<line x1="507.30" y1="477.6" x2="507.30" y2="635.3" stroke="#ebebeb" stroke-width="1.4"/>
<line x1="563.50" y1="477.6" x2="563.50" y2="635.3" stroke="#ebebeb" stroke-width="1.4"/>
<line x1="619.70" y1="477.6" x2="619.70" y2="635.3" stroke="#ebebeb" stroke-width="1.4"/>
<line x1="675.90" y1="477.6" x2="675.90" y2="635.3" stroke="#ebebeb" stroke-width="1.4"/>
<line x1="499.3" y1="628.80" x2="684.2" y2="628.80" stroke="#ebebeb" stroke-width="1.4"/>
<line x1="499.3" y1="599.90" x2="684.2" y2="599.90" stroke="#ebebeb" stroke-width="1.4"/>
<line x1="499.3" y1="571.00" x2="684.2" y2="571.00" stroke="#ebebeb" stroke-width="1.4"/>
<line x1="499.3" y1="542.10" x2="684.2" y2="542.10" stroke="#ebebeb" stroke-width="1.4"/>
<line x1="499.3" y1="513.20" x2="684.2" y2="513.20" stroke="#ebebeb" stroke-width="1.4"/>
<line x1="499.3" y1="484.30" x2="684.2" y2="484.30" stroke="#ebebeb" stroke-width="1.4"/>
<g filter="url(#cm218)" shape-rendering="crispEdges"><rect x="507.00" y="484.60" width="169.25" height="143.70" fill="#000"/><rect x="507.00" y="484.60" width="169.25" height="143.70" fill="url(#gx)" mask="url(#my)"/></g>
<polyline points="675.90,618.30 673.14,618.13 670.43,617.95 667.76,617.77 665.14,617.58 662.56,617.40 660.02,617.21 657.52,617.01 655.06,616.82 652.65,616.62 650.27,616.42 647.93,616.21 645.63,616.00 643.37,615.79 641.14,615.57 638.95,615.35 636.80,615.13 634.68,614.90 632.60,614.67 630.55,614.44 628.54,614.20 626.55,613.95 624.60,613.71 622.68,613.46 620.80,613.20 618.94,612.94 617.11,612.68 615.32,612.41 613.55,612.14 611.81,611.86 610.11,611.58 608.42,611.29 606.77,611.00 605.14,610.71 603.54,610.41 601.97,610.10 600.42,609.79 598.90,609.47 597.40,609.15 595.93,608.82 594.48,608.49 593.05,608.15 591.65,607.81 590.27,607.46 588.91,607.11 587.58,606.75 586.26,606.38 584.97,606.01 583.70,605.63 582.45,605.24 581.22,604.85 580.02,604.45 578.83,604.05 577.66,603.64 576.51,603.22 575.37,602.79 574.26,602.36 573.17,601.92 572.09,601.47 571.03,601.02 569.99,600.56 568.96,600.09 567.95,599.61 566.96,599.13 565.98,598.63 565.03,598.13 564.08,597.62 563.15,597.10 562.24,596.58 561.34,596.04 560.46,595.50 559.59,594.94 558.73,594.38 557.89,593.81 557.06,593.22 556.25,592.63 555.45,592.03 554.66,591.42 553.89,590.80 553.13,590.17 552.38,589.53 551.64,588.87 550.91,588.21 550.20,587.53 549.50,586.85 548.81,586.15 548.13,585.44 547.46,584.72 546.81,583.99 546.16,583.24 545.52,582.48 544.90,581.71 544.28,580.93 543.68,580.14 543.08,579.33 542.50,578.50 541.92,577.67 541.36,576.82 540.80,575.95 540.25,575.07 539.71,574.18 539.18,573.27 538.66,572.35 538.15,571.41 537.64,570.46 537.15,569.49 536.66,568.50 536.18,567.50 535.71,566.48 535.24,565.44 534.79,564.39 534.34,563.32 533.89,562.23 533.46,561.12 533.03,560.00 532.61,558.85 532.20,557.69 531.79,556.51 531.39,555.31 530.99,554.08 530.61,552.84 530.23,551.58 529.85,550.30 529.48,548.99 529.12,547.66 528.76,546.31 528.41,544.94 528.07,543.55 527.73,542.13 527.39,540.69 527.06,539.22 526.74,537.74 526.42,536.22 526.11,534.68 525.80,533.12 525.50,531.53 525.20,529.91 524.91,528.27 524.62,526.59 524.34,524.89 524.06,523.17 523.79,521.41 523.52,519.62 523.25,517.81 522.99,515.96 522.73,514.09 522.48,512.18 522.23,510.24 521.99,508.27 521.75,506.27 521.51,504.23 521.28,502.16 521.05,500.05 520.83,497.91 520.60,495.74 520.39,493.52 520.17,491.27 519.96,488.99 519.76,486.66 519.55,484.30" fill="none" stroke="#000" stroke-width="1.3" stroke-dasharray="4.6 4.6"/>
<polyline points="675.90,523.80 675.56,523.59 675.22,523.37 674.89,523.16 674.55,522.95 674.22,522.74 673.88,522.52 673.55,522.31 673.21,522.10 672.88,521.88 672.55,521.67 672.22,521.45 671.89,521.24 671.56,521.02 671.23,520.80 670.90,520.59 670.57,520.37 670.24,520.15 669.91,519.93 669.59,519.71 669.26,519.49 668.94,519.27 668.61,519.05 668.29,518.83 667.97,518.61 667.64,518.39 667.32,518.17 667.00,517.95 666.68,517.72 666.36,517.50 666.04,517.28 665.72,517.05 665.41,516.83 665.09,516.60 664.77,516.38 664.46,516.15 664.14,515.92 663.83,515.70 663.51,515.47 663.20,515.24 662.89,515.01 662.57,514.79 662.26,514.56 661.95,514.33 661.64,514.10 661.33,513.87 661.02,513.64 660.72,513.40 660.41,513.17 660.10,512.94 659.79,512.71 659.49,512.47 659.18,512.24 658.88,512.00 658.57,511.77 658.27,511.53 657.97,511.30 657.67,511.06 657.36,510.83 657.06,510.59 656.76,510.35 656.46,510.11 656.16,509.87 655.86,509.64 655.57,509.40 655.27,509.16 654.97,508.92 654.68,508.67 654.38,508.43 654.09,508.19 653.79,507.95 653.50,507.71 653.20,507.46 652.91,507.22 652.62,506.97 652.33,506.73 652.04,506.48 651.75,506.24 651.46,505.99 651.17,505.74 650.88,505.50 650.59,505.25 650.30,505.00 650.02,504.75 649.73,504.50 649.44,504.25 649.16,504.00 648.87,503.75 648.59,503.50 648.31,503.25 648.02,503.00 647.74,502.74 647.46,502.49 647.18,502.24 646.90,501.98 646.62,501.73 646.34,501.47 646.06,501.22 645.78,500.96 645.50,500.70 645.23,500.44 644.95,500.19 644.67,499.93 644.40,499.67 644.12,499.41 643.85,499.15 643.57,498.89 643.30,498.63 643.03,498.37 642.76,498.10 642.48,497.84 642.21,497.58 641.94,497.31 641.67,497.05 641.40,496.79 641.13,496.52 640.87,496.25 640.60,495.99 640.33,495.72 640.06,495.45 639.80,495.18 639.53,494.92 639.27,494.65 639.00,494.38 638.74,494.11 638.47,493.84 638.21,493.57 637.95,493.29 637.69,493.02 637.42,492.75 637.16,492.47 636.90,492.20 636.64,491.93 636.38,491.65 636.12,491.38 635.87,491.10 635.61,490.82 635.35,490.54 635.09,490.27 634.84,489.99 634.58,489.71 634.33,489.43 634.07,489.15 633.82,488.87 633.56,488.59 633.31,488.31 633.06,488.02 632.80,487.74 632.55,487.46 632.30,487.17 632.05,486.89 631.80,486.60 631.55,486.32 631.30,486.03 631.05,485.74 630.80,485.46 630.56,485.17 630.31,484.88 630.06,484.59 629.82,484.30" fill="none" stroke="#000" stroke-width="1.3"/>
<rect x="499.3" y="477.6" width="184.90" height="157.70" fill="none" stroke="#333" stroke-width="1.1"/>
<line x1="493.70" y1="628.80" x2="499.3" y2="628.80" stroke="#333" stroke-width="1.6"/>
<text x="489.60" y="631.75" text-anchor="end" font-size="8.6" fill="#4d4d4d" font-family="Liberation Sans, sans-serif">0</text>
<line x1="493.70" y1="599.90" x2="499.3" y2="599.90" stroke="#333" stroke-width="1.6"/>
<text x="489.60" y="602.85" text-anchor="end" font-size="8.6" fill="#4d4d4d" font-family="Liberation Sans, sans-serif">20</text>
<line x1="493.70" y1="571.00" x2="499.3" y2="571.00" stroke="#333" stroke-width="1.6"/>
<text x="489.60" y="573.95" text-anchor="end" font-size="8.6" fill="#4d4d4d" font-family="Liberation Sans, sans-serif">40</text>
<line x1="493.70" y1="542.10" x2="499.3" y2="542.10" stroke="#333" stroke-width="1.6"/>
<text x="489.60" y="545.05" text-anchor="end" font-size="8.6" fill="#4d4d4d" font-family="Liberation Sans, sans-serif">60</text>
<line x1="493.70" y1="513.20" x2="499.3" y2="513.20" stroke="#333" stroke-width="1.6"/>
<text x="489.60" y="516.15" text-anchor="end" font-size="8.6" fill="#4d4d4d" font-family="Liberation Sans, sans-serif">80</text>
<line x1="493.70" y1="484.30" x2="499.3" y2="484.30" stroke="#333" stroke-width="1.6"/>
<text x="489.60" y="487.25" text-anchor="end" font-size="8.6" fill="#4d4d4d" font-family="Liberation Sans, sans-serif">100</text>
<line x1="507.30" y1="635.3" x2="507.30" y2="641.00" stroke="#333" stroke-width="1.6"/>
<text x="507.30" y="651.20" text-anchor="middle" font-size="8.6" fill="#4d4d4d" font-family="Liberation Sans, sans-serif">0</text>
<line x1="563.50" y1="635.3" x2="563.50" y2="641.00" stroke="#333" stroke-width="1.6"/>
<text x="563.50" y="651.20" text-anchor="middle" font-size="8.6" fill="#4d4d4d" font-family="Liberation Sans, sans-serif">1</text>
<line x1="619.70" y1="635.3" x2="619.70" y2="641.00" stroke="#333" stroke-width="1.6"/>
<text x="619.70" y="651.20" text-anchor="middle" font-size="8.6" fill="#4d4d4d" font-family="Liberation Sans, sans-serif">2</text>
<line x1="675.90" y1="635.3" x2="675.90" y2="641.00" stroke="#333" stroke-width="1.6"/>
<text x="675.90" y="651.20" text-anchor="middle" font-size="8.6" fill="#4d4d4d" font-family="Liberation Sans, sans-serif">3</text>
<text x="591.75" y="455.80" text-anchor="middle" font-size="9" fill="#000" font-family="Liberation Sans, sans-serif">molecular follows 50% antigen –</text>
<text x="591.75" y="465.20" text-anchor="middle" font-size="9" fill="#000" font-family="Liberation Sans, sans-serif">sequence molecular +</text>
<text x="460.40" y="457.80" font-size="10" font-weight="bold" fill="#000" font-family="Liberation Sans, sans-serif">f</text>
<text transform="translate(8.1,556.45) rotate(-90)" text-anchor="middle" font-size="10.8" fill="#000" font-family="Liberation Sans, sans-serif">Discordant varaint prevalence (%)</text>
<line x1="75.40" y1="702.1" x2="75.40" y2="859.8" stroke="#ebebeb" stroke-width="0.7"/>
<line x1="131.60" y1="702.1" x2="131.60" y2="859.8" stroke="#ebebeb" stroke-width="0.7"/>
<line x1="187.80" y1="702.1" x2="187.80" y2="859.8" stroke="#ebebeb" stroke-width="0.7"/>
<line x1="39.3" y1="838.85" x2="224.2" y2="838.85" stroke="#ebebeb" stroke-width="0.7"/>
<line x1="39.3" y1="809.95" x2="224.2" y2="809.95" stroke="#ebebeb" stroke-width="0.7"/>
<line x1="39.3" y1="781.05" x2="224.2" y2="781.05" stroke="#ebebeb" stroke-width="0.7"/>
<line x1="39.3" y1="752.15" x2="224.2" y2="752.15" stroke="#ebebeb" stroke-width="0.7"/>
<line x1="39.3" y1="723.25" x2="224.2" y2="723.25" stroke="#ebebeb" stroke-width="0.7"/>
<line x1="47.30" y1="702.1" x2="47.30" y2="859.8" stroke="#ebebeb" stroke-width="1.4"/>
<line x1="103.50" y1="702.1" x2="103.50" y2="859.8" stroke="#ebebeb" stroke-width="1.4"/>
<line x1="159.70" y1="702.1" x2="159.70" y2="859.8" stroke="#ebebeb" stroke-width="1.4"/>
<line x1="215.90" y1="702.1" x2="215.90" y2="859.8" stroke="#ebebeb" stroke-width="1.4"/>
<line x1="39.3" y1="853.30" x2="224.2" y2="853.30" stroke="#ebebeb" stroke-width="1.4"/>
<line x1="39.3" y1="824.40" x2="224.2" y2="824.40" stroke="#ebebeb" stroke-width="1.4"/>
<line x1="39.3" y1="795.50" x2="224.2" y2="795.50" stroke="#ebebeb" stroke-width="1.4"/>
<line x1="39.3" y1="766.60" x2="224.2" y2="766.60" stroke="#ebebeb" stroke-width="1.4"/>
<line x1="39.3" y1="737.70" x2="224.2" y2="737.70" stroke="#ebebeb" stroke-width="1.4"/>
<line x1="39.3" y1="708.80" x2="224.2" y2="708.80" stroke="#ebebeb" stroke-width="1.4"/>
<g filter="url(#cm109)" shape-rendering="crispEdges"><rect x="47.00" y="709.10" width="169.25" height="143.70" fill="#000"/><rect x="47.00" y="709.10" width="169.25" height="143.70" fill="url(#gx)" mask="url(#my)"/></g>
<polyline points="215.90,848.05 212.42,847.94 209.01,847.83 205.68,847.71 202.41,847.59 199.21,847.47 196.07,847.35 193.01,847.22 190.00,847.10 187.05,846.97 184.17,846.83 181.35,846.70 178.58,846.56 175.87,846.42 173.22,846.27 170.62,846.12 168.08,845.97 165.58,845.82 163.14,845.66 160.75,845.50 158.41,845.33 156.12,845.17 153.87,844.99 151.68,844.82 149.52,844.64 147.41,844.46 145.35,844.27 143.32,844.08 141.34,843.89 139.40,843.69 137.50,843.49 135.64,843.28 133.82,843.07 132.03,842.85 130.28,842.63 128.57,842.41 126.90,842.18 125.25,841.94 123.64,841.71 122.07,841.46 120.53,841.21 119.02,840.96 117.54,840.70 116.09,840.43 114.67,840.16 113.28,839.88 111.92,839.60 110.58,839.31 109.28,839.02 108.00,838.72 106.75,838.41 105.52,838.10 104.32,837.78 103.14,837.45 101.99,837.11 100.86,836.77 99.76,836.43 98.67,836.07 97.61,835.71 96.58,835.34 95.56,834.96 94.56,834.57 93.59,834.18 92.63,833.77 91.70,833.36 90.78,832.94 89.88,832.51 89.01,832.08 88.15,831.63 87.30,831.17 86.48,830.71 85.67,830.23 84.88,829.74 84.10,829.25 83.34,828.74 82.60,828.22 81.87,827.69 81.16,827.16 80.46,826.60 79.77,826.04 79.10,825.47 78.45,824.88 77.81,824.28 77.18,823.67 76.56,823.05 75.96,822.41 75.36,821.76 74.79,821.09 74.22,820.42 73.66,819.72 73.12,819.02 72.59,818.29 72.06,817.56 71.55,816.80 71.05,816.03 70.56,815.25 70.08,814.45 69.61,813.63 69.15,812.79 68.70,811.94 68.26,811.07 67.83,810.18 67.40,809.27 66.99,808.34 66.58,807.39 66.18,806.43 65.80,805.44 65.41,804.43 65.04,803.40 64.67,802.35 64.32,801.28 63.96,800.18 63.62,799.06 63.28,797.92 62.95,796.75 62.63,795.56 62.31,794.35 62.00,793.10 61.70,791.84 61.40,790.54 61.11,789.22 60.83,787.87 60.55,786.49 60.28,785.08 60.01,783.64 59.75,782.18 59.49,780.68 59.24,779.15 58.99,777.59 58.75,775.99 58.51,774.36 58.28,772.70 58.06,771.00 57.83,769.27 57.62,767.50 57.40,765.69 57.20,763.84 56.99,761.96 56.79,760.03 56.60,758.07 56.40,756.06 56.22,754.02 56.03,751.92 55.85,749.79 55.67,747.61 55.50,745.38 55.33,743.11 55.17,740.78 55.00,738.41 54.85,735.99 54.69,733.52 54.54,731.00 54.39,728.42 54.24,725.79 54.10,723.10 53.96,720.36 53.82,717.56 53.69,714.70 53.55,711.78 53.43,708.80" fill="none" stroke="#000" stroke-width="1.3" stroke-dasharray="4.6 4.6"/>
<polyline points="215.90,800.80 214.83,800.46 213.77,800.13 212.71,799.79 211.66,799.44 210.62,799.10 209.58,798.75 208.55,798.41 207.53,798.05 206.51,797.70 205.50,797.35 204.49,796.99 203.50,796.63 202.51,796.27 201.52,795.90 200.54,795.54 199.57,795.17 198.60,794.80 197.64,794.42 196.69,794.05 195.74,793.67 194.80,793.29 193.86,792.90 192.93,792.52 192.01,792.13 191.09,791.74 190.18,791.35 189.27,790.95 188.37,790.55 187.47,790.15 186.58,789.75 185.70,789.34 184.82,788.93 183.95,788.52 183.08,788.11 182.22,787.69 181.36,787.27 180.51,786.85 179.67,786.43 178.82,786.00 177.99,785.57 177.16,785.14 176.34,784.70 175.52,784.26 174.70,783.82 173.89,783.38 173.09,782.93 172.29,782.48 171.50,782.03 170.71,781.57 169.93,781.12 169.15,780.65 168.38,780.19 167.61,779.72 166.84,779.25 166.09,778.78 165.33,778.30 164.58,777.83 163.84,777.34 163.10,776.86 162.36,776.37 161.63,775.88 160.91,775.38 160.19,774.89 159.47,774.39 158.76,773.88 158.05,773.37 157.35,772.86 156.65,772.35 155.95,771.83 155.26,771.31 154.58,770.79 153.90,770.26 153.22,769.73 152.55,769.20 151.88,768.66 151.22,768.12 150.56,767.58 149.90,767.03 149.25,766.48 148.60,765.92 147.96,765.36 147.32,764.80 146.69,764.24 146.06,763.67 145.43,763.10 144.81,762.52 144.19,761.94 143.57,761.36 142.96,760.77 142.35,760.18 141.75,759.58 141.15,758.98 140.56,758.38 139.96,757.77 139.38,757.16 138.79,756.55 138.21,755.93 137.63,755.31 137.06,754.68 136.49,754.05 135.92,753.42 135.36,752.78 134.80,752.14 134.25,751.49 133.70,750.84 133.15,750.19 132.60,749.53 132.06,748.87 131.52,748.20 130.99,747.53 130.46,746.85 129.93,746.17 129.41,745.49 128.88,744.80 128.37,744.11 127.85,743.41 127.34,742.71 126.83,742.00 126.33,741.29 125.83,740.58 125.33,739.86 124.83,739.13 124.34,738.40 123.85,737.67 123.37,736.93 122.88,736.19 122.40,735.44 121.93,734.68 121.45,733.93 120.98,733.16 120.51,732.40 120.05,731.62 119.59,730.85 119.13,730.07 118.67,729.28 118.22,728.49 117.77,727.69 117.32,726.89 116.88,726.08 116.44,725.27 116.00,724.45 115.56,723.62 115.13,722.80 114.70,721.96 114.27,721.12 113.84,720.28 113.42,719.43 113.00,718.57 112.59,717.71 112.17,716.85 111.76,715.98 111.35,715.10 110.94,714.22 110.54,713.33 110.14,712.43 109.74,711.53 109.34,710.63 108.95,709.72 108.56,708.80" fill="none" stroke="#000" stroke-width="1.3"/>
<polyline points="215.90,748.30 215.56,748.09 215.22,747.87 214.89,747.66 214.55,747.45 214.22,747.24 213.88,747.02 213.55,746.81 213.21,746.60 212.88,746.38 212.55,746.17 212.22,745.95 211.89,745.74 211.56,745.52 211.23,745.30 210.90,745.09 210.57,744.87 210.24,744.65 209.91,744.43 209.59,744.21 209.26,743.99 208.94,743.77 208.61,743.55 208.29,743.33 207.97,743.11 207.64,742.89 207.32,742.67 207.00,742.45 206.68,742.22 206.36,742.00 206.04,741.78 205.72,741.55 205.41,741.33 205.09,741.10 204.77,740.88 204.46,740.65 204.14,740.42 203.83,740.20 203.51,739.97 203.20,739.74 202.89,739.51 202.57,739.29 202.26,739.06 201.95,738.83 201.64,738.60 201.33,738.37 201.02,738.14 200.72,737.90 200.41,737.67 200.10,737.44 199.79,737.21 199.49,736.97 199.18,736.74 198.88,736.50 198.57,736.27 198.27,736.03 197.97,735.80 197.67,735.56 197.36,735.33 197.06,735.09 196.76,734.85 196.46,734.61 196.16,734.37 195.86,734.14 195.57,733.90 195.27,733.66 194.97,733.42 194.68,733.17 194.38,732.93 194.09,732.69 193.79,732.45 193.50,732.21 193.20,731.96 192.91,731.72 192.62,731.47 192.33,731.23 192.04,730.98 191.75,730.74 191.46,730.49 191.17,730.24 190.88,730.00 190.59,729.75 190.30,729.50 190.02,729.25 189.73,729.00 189.44,728.75 189.16,728.50 188.87,728.25 188.59,728.00 188.31,727.75 188.02,727.50 187.74,727.24 187.46,726.99 187.18,726.74 186.90,726.48 186.62,726.23 186.34,725.97 186.06,725.72 185.78,725.46 185.50,725.20 185.23,724.94 184.95,724.69 184.67,724.43 184.40,724.17 184.12,723.91 183.85,723.65 183.57,723.39 183.30,723.13 183.03,722.87 182.76,722.60 182.48,722.34 182.21,722.08 181.94,721.81 181.67,721.55 181.40,721.29 181.13,721.02 180.87,720.75 180.60,720.49 180.33,720.22 180.06,719.95 179.80,719.68 179.53,719.42 179.27,719.15 179.00,718.88 178.74,718.61 178.47,718.34 178.21,718.07 177.95,717.79 177.69,717.52 177.42,717.25 177.16,716.97 176.90,716.70 176.64,716.43 176.38,716.15 176.12,715.88 175.87,715.60 175.61,715.32 175.35,715.04 175.09,714.77 174.84,714.49 174.58,714.21 174.33,713.93 174.07,713.65 173.82,713.37 173.56,713.09 173.31,712.81 173.06,712.52 172.80,712.24 172.55,711.96 172.30,711.67 172.05,711.39 171.80,711.10 171.55,710.82 171.30,710.53 171.05,710.24 170.80,709.96 170.56,709.67 170.31,709.38 170.06,709.09 169.82,708.80" fill="none" stroke="#000" stroke-width="1.3" stroke-dasharray="1.15 3.45"/>
<rect x="39.3" y="702.1" width="184.90" height="157.70" fill="none" stroke="#333" stroke-width="1.1"/>
<line x1="33.70" y1="853.30" x2="39.3" y2="853.30" stroke="#333" stroke-width="1.6"/>
<text x="29.60" y="856.25" text-anchor="end" font-size="8.6" fill="#4d4d4d" font-family="Liberation Sans, sans-serif">0</text>
<line x1="33.70" y1="824.40" x2="39.3" y2="824.40" stroke="#333" stroke-width="1.6"/>
<text x="29.60" y="827.35" text-anchor="end" font-size="8.6" fill="#4d4d4d" font-family="Liberation Sans, sans-serif">20</text>
<line x1="33.70" y1="795.50" x2="39.3" y2="795.50" stroke="#333" stroke-width="1.6"/>
<text x="29.60" y="798.45" text-anchor="end" font-size="8.6" fill="#4d4d4d" font-family="Liberation Sans, sans-serif">40</text>
<line x1="33.70" y1="766.60" x2="39.3" y2="766.60" stroke="#333" stroke-width="1.6"/>
<text x="29.60" y="769.55" text-anchor="end" font-size="8.6" fill="#4d4d4d" font-family="Liberation Sans, sans-serif">60</text>
<line x1="33.70" y1="737.70" x2="39.3" y2="737.70" stroke="#333" stroke-width="1.6"/>
<text x="29.60" y="740.65" text-anchor="end" font-size="8.6" fill="#4d4d4d" font-family="Liberation Sans, sans-serif">80</text>
<line x1="33.70" y1="708.80" x2="39.3" y2="708.80" stroke="#333" stroke-width="1.6"/>
<text x="29.60" y="711.75" text-anchor="end" font-size="8.6" fill="#4d4d4d" font-family="Liberation Sans, sans-serif">100</text>
<line x1="47.30" y1="859.8" x2="47.30" y2="865.50" stroke="#333" stroke-width="1.6"/>
<text x="47.30" y="875.70" text-anchor="middle" font-size="8.6" fill="#4d4d4d" font-family="Liberation Sans, sans-serif">0</text>
<line x1="103.50" y1="859.8" x2="103.50" y2="865.50" stroke="#333" stroke-width="1.6"/>
<text x="103.50" y="875.70" text-anchor="middle" font-size="8.6" fill="#4d4d4d" font-family="Liberation Sans, sans-serif">1</text>
<line x1="159.70" y1="859.8" x2="159.70" y2="865.50" stroke="#333" stroke-width="1.6"/>
<text x="159.70" y="875.70" text-anchor="middle" font-size="8.6" fill="#4d4d4d" font-family="Liberation Sans, sans-serif">2</text>
<line x1="215.90" y1="859.8" x2="215.90" y2="865.50" stroke="#333" stroke-width="1.6"/>
<text x="215.90" y="875.70" text-anchor="middle" font-size="8.6" fill="#4d4d4d" font-family="Liberation Sans, sans-serif">3</text>
<line x1="305.40" y1="702.1" x2="305.40" y2="859.8" stroke="#ebebeb" stroke-width="0.7"/>
<line x1="361.60" y1="702.1" x2="361.60" y2="859.8" stroke="#ebebeb" stroke-width="0.7"/>
<line x1="417.80" y1="702.1" x2="417.80" y2="859.8" stroke="#ebebeb" stroke-width="0.7"/>
<line x1="269.3" y1="838.85" x2="454.2" y2="838.85" stroke="#ebebeb" stroke-width="0.7"/>
<line x1="269.3" y1="809.95" x2="454.2" y2="809.95" stroke="#ebebeb" stroke-width="0.7"/>
<line x1="269.3" y1="781.05" x2="454.2" y2="781.05" stroke="#ebebeb" stroke-width="0.7"/>
<line x1="269.3" y1="752.15" x2="454.2" y2="752.15" stroke="#ebebeb" stroke-width="0.7"/>
<line x1="269.3" y1="723.25" x2="454.2" y2="723.25" stroke="#ebebeb" stroke-width="0.7"/>
<line x1="277.30" y1="702.1" x2="277.30" y2="859.8" stroke="#ebebeb" stroke-width="1.4"/>
<line x1="333.50" y1="702.1" x2="333.50" y2="859.8" stroke="#ebebeb" stroke-width="1.4"/>
<line x1="389.70" y1="702.1" x2="389.70" y2="859.8" stroke="#ebebeb" stroke-width="1.4"/>
<line x1="445.90" y1="702.1" x2="445.90" y2="859.8" stroke="#ebebeb" stroke-width="1.4"/>
<line x1="269.3" y1="853.30" x2="454.2" y2="853.30" stroke="#ebebeb" stroke-width="1.4"/>
<line x1="269.3" y1="824.40" x2="454.2" y2="824.40" stroke="#ebebeb" stroke-width="1.4"/>
<line x1="269.3" y1="795.50" x2="454.2" y2="795.50" stroke="#ebebeb" stroke-width="1.4"/>
<line x1="269.3" y1="766.60" x2="454.2" y2="766.60" stroke="#ebebeb" stroke-width="1.4"/>
<line x1="269.3" y1="737.70" x2="454.2" y2="737.70" stroke="#ebebeb" stroke-width="1.4"/>
<line x1="269.3" y1="708.80" x2="454.2" y2="708.80" stroke="#ebebeb" stroke-width="1.4"/>
<g filter="url(#cm325)" shape-rendering="crispEdges"><rect x="277.00" y="709.10" width="169.25" height="143.70" fill="#000"/><rect x="277.00" y="709.10" width="169.25" height="143.70" fill="url(#gx)" mask="url(#my)"/></g>
<polyline points="445.90,837.65 443.56,837.43 441.25,837.20 438.98,836.98 436.73,836.75 434.52,836.51 432.34,836.28 430.18,836.04 428.06,835.79 425.97,835.55 423.91,835.30 421.87,835.04 419.86,834.79 417.88,834.53 415.93,834.26 414.01,833.99 412.11,833.72 410.24,833.45 408.39,833.17 406.58,832.88 404.78,832.60 403.01,832.31 401.27,832.01 399.55,831.71 397.85,831.41 396.18,831.10 394.52,830.79 392.90,830.47 391.29,830.15 389.71,829.82 388.15,829.49 386.61,829.16 385.09,828.82 383.60,828.47 382.12,828.12 380.67,827.77 379.23,827.41 377.82,827.04 376.42,826.67 375.05,826.30 373.69,825.92 372.35,825.53 371.03,825.14 369.73,824.75 368.45,824.34 367.18,823.94 365.94,823.52 364.70,823.10 363.49,822.68 362.30,822.25 361.12,821.81 359.95,821.37 358.80,820.92 357.67,820.46 356.56,820.00 355.46,819.53 354.37,819.06 353.30,818.57 352.25,818.08 351.21,817.59 350.18,817.09 349.17,816.58 348.17,816.06 347.19,815.54 346.22,815.00 345.26,814.46 344.32,813.92 343.39,813.36 342.47,812.80 341.57,812.23 340.67,811.65 339.79,811.07 338.93,810.47 338.07,809.87 337.23,809.26 336.40,808.64 335.58,808.01 334.77,807.37 333.97,806.73 333.18,806.07 332.41,805.41 331.64,804.73 330.89,804.05 330.14,803.35 329.41,802.65 328.69,801.94 327.97,801.22 327.27,800.48 326.58,799.74 325.89,798.98 325.22,798.22 324.55,797.45 323.90,796.66 323.25,795.86 322.61,795.05 321.98,794.23 321.36,793.40 320.75,792.56 320.15,791.70 319.55,790.84 318.97,789.96 318.39,789.07 317.82,788.16 317.26,787.24 316.70,786.31 316.15,785.37 315.61,784.42 315.08,783.45 314.56,782.46 314.04,781.47 313.53,780.45 313.03,779.43 312.53,778.39 312.04,777.33 311.56,776.27 311.09,775.18 310.62,774.08 310.15,772.97 309.70,771.84 309.25,770.69 308.80,769.53 308.37,768.35 307.94,767.15 307.51,765.94 307.09,764.71 306.68,763.46 306.27,762.20 305.87,760.91 305.47,759.61 305.08,758.29 304.69,756.96 304.31,755.60 303.94,754.23 303.57,752.83 303.21,751.42 302.85,749.98 302.49,748.53 302.14,747.05 301.80,745.56 301.46,744.04 301.12,742.50 300.79,740.94 300.46,739.36 300.14,737.76 299.83,736.13 299.51,734.48 299.20,732.81 298.90,731.11 298.60,729.39 298.31,727.65 298.01,725.88 297.73,724.09 297.44,722.27 297.16,720.42 296.89,718.55 296.62,716.66 296.35,714.73 296.08,712.78 295.82,710.81 295.56,708.80" fill="none" stroke="#000" stroke-width="1.3" stroke-dasharray="4.6 4.6"/>
<rect x="269.3" y="702.1" width="184.90" height="157.70" fill="none" stroke="#333" stroke-width="1.1"/>
<line x1="263.70" y1="853.30" x2="269.3" y2="853.30" stroke="#333" stroke-width="1.6"/>
<text x="259.60" y="856.25" text-anchor="end" font-size="8.6" fill="#4d4d4d" font-family="Liberation Sans, sans-serif">0</text>
<line x1="263.70" y1="824.40" x2="269.3" y2="824.40" stroke="#333" stroke-width="1.6"/>
<text x="259.60" y="827.35" text-anchor="end" font-size="8.6" fill="#4d4d4d" font-family="Liberation Sans, sans-serif">20</text>
<line x1="263.70" y1="795.50" x2="269.3" y2="795.50" stroke="#333" stroke-width="1.6"/>
<text x="259.60" y="798.45" text-anchor="end" font-size="8.6" fill="#4d4d4d" font-family="Liberation Sans, sans-serif">40</text>
<line x1="263.70" y1="766.60" x2="269.3" y2="766.60" stroke="#333" stroke-width="1.6"/>
<text x="259.60" y="769.55" text-anchor="end" font-size="8.6" fill="#4d4d4d" font-family="Liberation Sans, sans-serif">60</text>
<line x1="263.70" y1="737.70" x2="269.3" y2="737.70" stroke="#333" stroke-width="1.6"/>
<text x="259.60" y="740.65" text-anchor="end" font-size="8.6" fill="#4d4d4d" font-family="Liberation Sans, sans-serif">80</text>
<line x1="263.70" y1="708.80" x2="269.3" y2="708.80" stroke="#333" stroke-width="1.6"/>
<text x="259.60" y="711.75" text-anchor="end" font-size="8.6" fill="#4d4d4d" font-family="Liberation Sans, sans-serif">100</text>
<line x1="277.30" y1="859.8" x2="277.30" y2="865.50" stroke="#333" stroke-width="1.6"/>
<text x="277.30" y="875.70" text-anchor="middle" font-size="8.6" fill="#4d4d4d" font-family="Liberation Sans, sans-serif">0</text>
<line x1="333.50" y1="859.8" x2="333.50" y2="865.50" stroke="#333" stroke-width="1.6"/>
<text x="333.50" y="875.70" text-anchor="middle" font-size="8.6" fill="#4d4d4d" font-family="Liberation Sans, sans-serif">1</text>
<line x1="389.70" y1="859.8" x2="389.70" y2="865.50" stroke="#333" stroke-width="1.6"/>
<text x="389.70" y="875.70" text-anchor="middle" font-size="8.6" fill="#4d4d4d" font-family="Liberation Sans, sans-serif">2</text>
<line x1="445.90" y1="859.8" x2="445.90" y2="865.50" stroke="#333" stroke-width="1.6"/>
<text x="445.90" y="875.70" text-anchor="middle" font-size="8.6" fill="#4d4d4d" font-family="Liberation Sans, sans-serif">3</text>
<line x1="535.40" y1="702.1" x2="535.40" y2="859.8" stroke="#ebebeb" stroke-width="0.7"/>
<line x1="591.60" y1="702.1" x2="591.60" y2="859.8" stroke="#ebebeb" stroke-width="0.7"/>
<line x1="647.80" y1="702.1" x2="647.80" y2="859.8" stroke="#ebebeb" stroke-width="0.7"/>
<line x1="499.3" y1="838.85" x2="684.2" y2="838.85" stroke="#ebebeb" stroke-width="0.7"/>
<line x1="499.3" y1="809.95" x2="684.2" y2="809.95" stroke="#ebebeb" stroke-width="0.7"/>
<line x1="499.3" y1="781.05" x2="684.2" y2="781.05" stroke="#ebebeb" stroke-width="0.7"/>
<line x1="499.3" y1="752.15" x2="684.2" y2="752.15" stroke="#ebebeb" stroke-width="0.7"/>
<line x1="499.3" y1="723.25" x2="684.2" y2="723.25" stroke="#ebebeb" stroke-width="0.7"/>
<line x1="507.30" y1="702.1" x2="507.30" y2="859.8" stroke="#ebebeb" stroke-width="1.4"/>
<line x1="563.50" y1="702.1" x2="563.50" y2="859.8" stroke="#ebebeb" stroke-width="1.4"/>
<line x1="619.70" y1="702.1" x2="619.70" y2="859.8" stroke="#ebebeb" stroke-width="1.4"/>
<line x1="675.90" y1="702.1" x2="675.90" y2="859.8" stroke="#ebebeb" stroke-width="1.4"/>
<line x1="499.3" y1="853.30" x2="684.2" y2="853.30" stroke="#ebebeb" stroke-width="1.4"/>
<line x1="499.3" y1="824.40" x2="684.2" y2="824.40" stroke="#ebebeb" stroke-width="1.4"/>
<line x1="499.3" y1="795.50" x2="684.2" y2="795.50" stroke="#ebebeb" stroke-width="1.4"/>
<line x1="499.3" y1="766.60" x2="684.2" y2="766.60" stroke="#ebebeb" stroke-width="1.4"/>
<line x1="499.3" y1="737.70" x2="684.2" y2="737.70" stroke="#ebebeb" stroke-width="1.4"/>
<line x1="499.3" y1="708.80" x2="684.2" y2="708.80" stroke="#ebebeb" stroke-width="1.4"/>
<g filter="url(#cm715)" shape-rendering="crispEdges"><rect x="507.00" y="709.10" width="169.25" height="143.70" fill="#000"/><rect x="507.00" y="709.10" width="169.25" height="143.70" fill="url(#gx)" mask="url(#my)"/></g>
<polyline points="675.90,818.86 674.39,818.55 672.89,818.23 671.40,817.92 669.93,817.60 668.47,817.27 667.02,816.95 665.58,816.62 664.16,816.28 662.75,815.95 661.36,815.61 659.98,815.27 658.60,814.92 657.25,814.58 655.90,814.23 654.57,813.87 653.24,813.51 651.93,813.15 650.63,812.79 649.35,812.42 648.07,812.05 646.81,811.68 645.56,811.30 644.31,810.92 643.08,810.54 641.86,810.15 640.66,809.76 639.46,809.36 638.27,808.97 637.10,808.56 635.93,808.16 634.78,807.75 633.63,807.34 632.50,806.92 631.37,806.50 630.26,806.08 629.15,805.65 628.06,805.22 626.98,804.78 625.90,804.34 624.84,803.90 623.78,803.45 622.74,803.00 621.70,802.54 620.67,802.08 619.65,801.62 618.65,801.15 617.65,800.68 616.65,800.20 615.67,799.72 614.70,799.24 613.74,798.75 612.78,798.25 611.83,797.75 610.89,797.25 609.96,796.74 609.04,796.23 608.13,795.71 607.22,795.19 606.33,794.66 605.44,794.13 604.56,793.60 603.68,793.06 602.82,792.51 601.96,791.96 601.11,791.40 600.27,790.84 599.43,790.28 598.61,789.71 597.79,789.13 596.97,788.55 596.17,787.96 595.37,787.37 594.58,786.77 593.80,786.17 593.02,785.56 592.25,784.95 591.49,784.33 590.73,783.70 589.98,783.07 589.24,782.44 588.50,781.80 587.77,781.15 587.05,780.49 586.34,779.83 585.63,779.17 584.92,778.50 584.23,777.82 583.54,777.14 582.85,776.44 582.17,775.75 581.50,775.05 580.83,774.34 580.17,773.62 579.52,772.90 578.87,772.17 578.23,771.44 577.59,770.69 576.96,769.95 576.33,769.19 575.71,768.43 575.10,767.66 574.49,766.88 573.89,766.10 573.29,765.31 572.70,764.51 572.11,763.71 571.53,762.90 570.95,762.08 570.38,761.25 569.81,760.42 569.25,759.58 568.70,758.73 568.15,757.87 567.60,757.01 567.06,756.13 566.52,755.25 565.99,754.36 565.46,753.47 564.94,752.56 564.42,751.65 563.91,750.73 563.40,749.80 562.90,748.86 562.40,747.92 561.90,746.96 561.41,746.00 560.93,745.03 560.45,744.05 559.97,743.06 559.50,742.06 559.03,741.05 558.56,740.03 558.10,739.01 557.65,737.97 557.19,736.93 556.75,735.87 556.30,734.81 555.86,733.73 555.43,732.65 554.99,731.56 554.57,730.45 554.14,729.34 553.72,728.22 553.30,727.08 552.89,725.94 552.48,724.79 552.08,723.62 551.67,722.45 551.28,721.26 550.88,720.07 550.49,718.86 550.10,717.64 549.72,716.41 549.34,715.17 548.96,713.92 548.59,712.66 548.21,711.38 547.85,710.10 547.48,708.80" fill="none" stroke="#000" stroke-width="1.3" stroke-dasharray="4.6 4.6"/>
<rect x="499.3" y="702.1" width="184.90" height="157.70" fill="none" stroke="#333" stroke-width="1.1"/>
<line x1="493.70" y1="853.30" x2="499.3" y2="853.30" stroke="#333" stroke-width="1.6"/>
<text x="489.60" y="856.25" text-anchor="end" font-size="8.6" fill="#4d4d4d" font-family="Liberation Sans, sans-serif">0</text>
<line x1="493.70" y1="824.40" x2="499.3" y2="824.40" stroke="#333" stroke-width="1.6"/>
<text x="489.60" y="827.35" text-anchor="end" font-size="8.6" fill="#4d4d4d" font-family="Liberation Sans, sans-serif">20</text>
<line x1="493.70" y1="795.50" x2="499.3" y2="795.50" stroke="#333" stroke-width="1.6"/>
<text x="489.60" y="798.45" text-anchor="end" font-size="8.6" fill="#4d4d4d" font-family="Liberation Sans, sans-serif">40</text>
<line x1="493.70" y1="766.60" x2="499.3" y2="766.60" stroke="#333" stroke-width="1.6"/>
<text x="489.60" y="769.55" text-anchor="end" font-size="8.6" fill="#4d4d4d" font-family="Liberation Sans, sans-serif">60</text>
<line x1="493.70" y1="737.70" x2="499.3" y2="737.70" stroke="#333" stroke-width="1.6"/>
<text x="489.60" y="740.65" text-anchor="end" font-size="8.6" fill="#4d4d4d" font-family="Liberation Sans, sans-serif">80</text>
<line x1="493.70" y1="708.80" x2="499.3" y2="708.80" stroke="#333" stroke-width="1.6"/>
<text x="489.60" y="711.75" text-anchor="end" font-size="8.6" fill="#4d4d4d" font-family="Liberation Sans, sans-serif">100</text>
<line x1="507.30" y1="859.8" x2="507.30" y2="865.50" stroke="#333" stroke-width="1.6"/>
<text x="507.30" y="875.70" text-anchor="middle" font-size="8.6" fill="#4d4d4d" font-family="Liberation Sans, sans-serif">0</text>
<line x1="563.50" y1="859.8" x2="563.50" y2="865.50" stroke="#333" stroke-width="1.6"/>
<text x="563.50" y="875.70" text-anchor="middle" font-size="8.6" fill="#4d4d4d" font-family="Liberation Sans, sans-serif">1</text>
<line x1="619.70" y1="859.8" x2="619.70" y2="865.50" stroke="#333" stroke-width="1.6"/>
<text x="619.70" y="875.70" text-anchor="middle" font-size="8.6" fill="#4d4d4d" font-family="Liberation Sans, sans-serif">2</text>
<line x1="675.90" y1="859.8" x2="675.90" y2="865.50" stroke="#333" stroke-width="1.6"/>
<text x="675.90" y="875.70" text-anchor="middle" font-size="8.6" fill="#4d4d4d" font-family="Liberation Sans, sans-serif">3</text>
<text transform="translate(8.1,780.95) rotate(-90)" text-anchor="middle" font-size="10.8" fill="#000" font-family="Liberation Sans, sans-serif">Concordant variant prevalence (%)</text>
<text x="342.3" y="910.6" text-anchor="middle" font-size="12.65" fill="#000" font-family="Liberation Sans, sans-serif">Specimens sequenced (%)</text>
<rect x="56" y="44" width="58.2" height="68.5" fill="#fff"/>
<text x="59.4" y="54.9" font-size="9" fill="#000" font-family="Liberation Sans, sans-serif">Cases</text>
<text x="59.4" y="64.8" font-size="9" fill="#000" font-family="Liberation Sans, sans-serif">detected (%)</text>
<rect x="59.6" y="70.2" width="7.8" height="38.4" rx="0.7" fill="url(#lg)"/>
<line x1="59.6" y1="95.80" x2="67.4" y2="95.80" stroke="#fff" stroke-width="0.7" stroke-opacity="0.75"/>
<line x1="59.6" y1="83.00" x2="67.4" y2="83.00" stroke="#fff" stroke-width="0.7" stroke-opacity="0.75"/>
<text x="72.3" y="111.70" font-size="8.7" fill="#000" font-family="Liberation Sans, sans-serif">0</text>
<text x="72.3" y="98.90" font-size="8.7" fill="#000" font-family="Liberation Sans, sans-serif">1</text>
<text x="72.3" y="86.10" font-size="8.7" fill="#000" font-family="Liberation Sans, sans-serif">2</text>
<text x="72.3" y="73.30" font-size="8.7" fill="#000" font-family="Liberation Sans, sans-serif">3</text>
<rect x="56" y="116.4" width="32.9" height="38.5" fill="#fff"/>
<line x1="60.1" y1="130.5" x2="66.7" y2="130.5" stroke="#000" stroke-width="1.15" stroke-dasharray="4.6 4.6"/>
<line x1="60.1" y1="139" x2="66.7" y2="139" stroke="#000" stroke-width="1.5"/>
<line x1="60.1" y1="147.6" x2="66.7" y2="147.6" stroke="#000" stroke-width="1.15" stroke-dasharray="1.15 3.45"/>
<text x="72.3" y="133.40" font-size="8.7" fill="#000" font-family="Liberation Sans, sans-serif">0.1</text>
<text x="72.3" y="141.80" font-size="8.7" fill="#000" font-family="Liberation Sans, sans-serif">1</text>
<text x="72.3" y="150.40" font-size="8.7" fill="#000" font-family="Liberation Sans, sans-serif">2</text>
</svg>
</body></html>
